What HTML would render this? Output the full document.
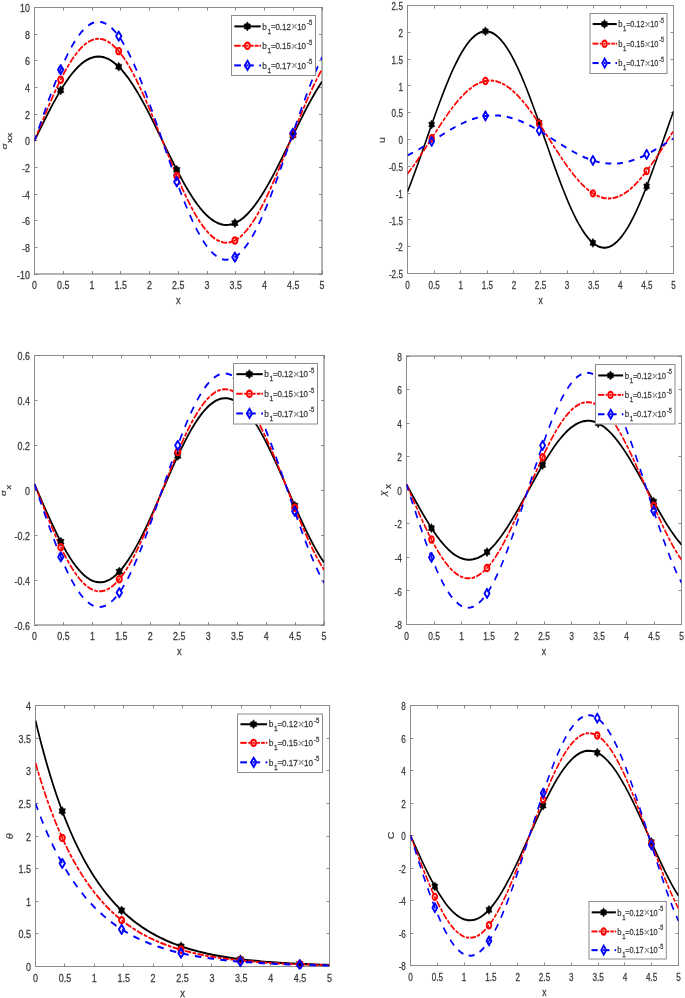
<!DOCTYPE html><html><head><meta charset="utf-8"><style>html,body{margin:0;padding:0;background:#fff;}svg{display:block;will-change:transform;}text{font-family:"Liberation Sans", sans-serif;}</style></head><body>
<svg width="685" height="998" viewBox="0 0 685 998">
<rect width="685" height="998" fill="#fff"/>
<path d="M34.5 274.0V271.0M34.5 7.5V10.5M63.5 274.0V271.0M63.5 7.5V10.5M92.5 274.0V271.0M92.5 7.5V10.5M120.5 274.0V271.0M120.5 7.5V10.5M149.5 274.0V271.0M149.5 7.5V10.5M178.5 274.0V271.0M178.5 7.5V10.5M207.5 274.0V271.0M207.5 7.5V10.5M235.5 274.0V271.0M235.5 7.5V10.5M264.5 274.0V271.0M264.5 7.5V10.5M293.5 274.0V271.0M293.5 7.5V10.5M322.5 274.0V271.0M322.5 7.5V10.5M34.5 274.5H37.5M322.0 274.5H319.0M34.5 247.5H37.5M322.0 247.5H319.0M34.5 220.5H37.5M322.0 220.5H319.0M34.5 194.5H37.5M322.0 194.5H319.0M34.5 167.5H37.5M322.0 167.5H319.0M34.5 140.5H37.5M322.0 140.5H319.0M34.5 114.5H37.5M322.0 114.5H319.0M34.5 87.5H37.5M322.0 87.5H319.0M34.5 60.5H37.5M322.0 60.5H319.0M34.5 34.5H37.5M322.0 34.5H319.0M34.5 7.5H37.5M322.0 7.5H319.0" stroke="#8c8c8c" stroke-width="1" fill="none"/>
<path d="M34.00 7.50H322.50" stroke="#8c8c8c" stroke-width="1" fill="none"/>
<path d="M34.00 274.00H322.50" stroke="#666" stroke-width="1" fill="none"/>
<path d="M34.50 7.00V274.50" stroke="#8c8c8c" stroke-width="1" fill="none"/>
<path d="M322.00 7.00V274.50" stroke="#666" stroke-width="1" fill="none"/>
<clipPath id="c0"><rect x="34.50" y="4.50" width="287.50" height="272.50"/></clipPath>
<g clip-path="url(#c0)"><g transform="scale(1.0000,1.2000)" fill="none" stroke-linejoin="round">
<polyline points="34.50,117.29 37.40,112.29 40.31,107.32 43.21,102.39 46.12,97.54 49.02,92.80 51.92,88.17 54.83,83.70 57.73,79.39 60.64,75.28 63.54,71.38 66.44,67.72 69.35,64.30 72.25,61.16 75.16,58.30 78.06,55.74 80.96,53.50 83.87,51.57 86.77,49.99 89.68,48.74 92.58,47.85 95.48,47.30 98.39,47.11 101.29,47.28 104.20,47.81 107.10,48.68 110.01,49.91 112.91,51.48 115.81,53.38 118.72,55.61 121.62,58.16 124.53,61.00 127.43,64.13 130.33,67.53 133.24,71.18 136.14,75.07 139.05,79.17 141.95,83.46 144.85,87.93 147.76,92.54 150.66,97.29 153.57,102.13 156.47,107.05 159.37,112.02 162.28,117.02 165.18,122.02 168.09,127.00 170.99,131.93 173.89,136.78 176.80,141.54 179.70,146.17 182.61,150.65 185.51,154.97 188.41,159.09 191.32,163.00 194.22,166.68 197.13,170.11 200.03,173.26 202.93,176.14 205.84,178.71 208.74,180.98 211.65,182.91 214.55,184.52 217.45,185.78 220.36,186.70 223.26,187.26 226.17,187.47 229.07,187.32 231.97,186.81 234.88,185.95 237.78,184.75 240.69,183.19 243.59,181.31 246.49,179.10 249.40,176.57 252.30,173.74 255.21,170.63 258.11,167.25 261.02,163.61 263.92,159.73 266.82,155.64 269.73,151.36 272.63,146.90 275.54,142.29 278.44,137.55 281.34,132.71 284.25,127.80 287.15,122.83 290.06,117.83 292.96,112.83 295.86,107.85 298.77,102.92 301.67,98.06 304.58,93.30 307.48,88.66 310.38,84.17 313.29,79.84 316.19,75.71 319.10,71.79 322.00,68.10" stroke="#000" stroke-width="1.70"/>
<polyline points="34.50,117.29 37.40,111.24 40.31,105.22 43.21,99.26 46.12,93.39 49.02,87.64 51.92,82.04 54.83,76.63 57.73,71.42 60.64,66.44 63.54,61.72 66.44,57.28 69.35,53.15 72.25,49.35 75.16,45.89 78.06,42.79 80.96,40.07 83.87,37.74 86.77,35.82 89.68,34.32 92.58,33.23 95.48,32.57 98.39,32.34 101.29,32.55 104.20,33.18 107.10,34.25 110.01,35.73 112.91,37.63 115.81,39.94 118.72,42.63 121.62,45.71 124.53,49.15 127.43,52.94 130.33,57.05 133.24,61.47 136.14,66.18 139.05,71.14 141.95,76.34 144.85,81.75 147.76,87.34 150.66,93.08 153.57,98.94 156.47,104.90 159.37,110.92 162.28,116.97 165.18,123.02 168.09,129.05 170.99,135.01 173.89,140.88 176.80,146.64 179.70,152.24 182.61,157.67 185.51,162.89 188.41,167.89 191.32,172.62 194.22,177.07 197.13,181.22 200.03,185.04 202.93,188.52 205.84,191.64 208.74,194.38 211.65,196.72 214.55,198.67 217.45,200.20 220.36,201.31 223.26,201.99 226.17,202.24 229.07,202.06 231.97,201.44 234.88,200.40 237.78,198.94 240.69,197.06 243.59,194.78 246.49,192.10 249.40,189.05 252.30,185.62 255.21,181.86 258.11,177.76 261.02,173.35 263.92,168.66 266.82,163.71 269.73,158.52 272.63,153.13 275.54,147.55 278.44,141.82 281.34,135.96 284.25,130.01 287.15,123.99 290.06,117.94 292.96,111.89 295.86,105.86 298.77,99.89 301.67,94.01 304.58,88.25 307.48,82.63 310.38,77.20 313.29,71.96 316.19,66.96 319.10,62.21 322.00,57.74" stroke="#f00" stroke-width="1.65" stroke-dasharray="6.168 1.393 3.581 1.393" stroke-dashoffset="0.900"/>
<polyline points="34.50,117.29 37.40,110.23 40.31,103.20 43.21,96.24 46.12,89.39 49.02,82.68 51.92,76.15 54.83,69.82 57.73,63.74 60.64,57.93 63.54,52.42 66.44,47.24 69.35,42.42 72.25,37.98 75.16,33.94 78.06,30.32 80.96,27.15 83.87,24.43 86.77,22.19 89.68,20.43 92.58,19.17 95.48,18.40 98.39,18.13 101.29,18.37 104.20,19.11 107.10,20.35 110.01,22.09 112.91,24.30 115.81,26.99 118.72,30.14 121.62,33.73 124.53,37.75 127.43,42.17 130.33,46.97 133.24,52.13 136.14,57.63 139.05,63.42 141.95,69.49 144.85,75.80 147.76,82.32 150.66,89.03 153.57,95.87 156.47,102.82 159.37,109.85 162.28,116.91 165.18,123.98 168.09,131.01 170.99,137.97 173.89,144.83 176.80,151.55 179.70,158.09 182.61,164.43 185.51,170.53 188.41,176.35 191.32,181.88 194.22,187.07 197.13,191.92 200.03,196.38 202.93,200.44 205.84,204.08 208.74,207.28 211.65,210.02 214.55,212.28 217.45,214.07 220.36,215.36 223.26,216.16 226.17,216.45 229.07,216.24 231.97,215.52 234.88,214.31 237.78,212.60 240.69,210.41 243.59,207.75 246.49,204.62 249.40,201.05 252.30,197.06 255.21,192.66 258.11,187.88 261.02,182.73 263.92,177.26 266.82,171.48 269.73,165.42 272.63,159.12 275.54,152.61 278.44,145.92 281.34,139.08 284.25,132.14 287.15,125.11 290.06,118.05 292.96,110.98 295.86,103.95 298.77,96.98 301.67,90.11 304.58,83.39 307.48,76.84 310.38,70.49 313.29,64.38 316.19,58.54 319.10,52.99 322.00,47.78" stroke="#00f" stroke-width="1.70" stroke-dasharray="6.400 6.135" stroke-dashoffset="1.530"/>
<polygon points="60.64,71.48 59.39,73.11 57.35,73.38 58.14,75.28 57.35,77.18 59.39,77.44 60.64,79.08 61.89,77.44 63.93,77.18 63.14,75.28 63.93,73.38 61.89,73.11" fill="#000" stroke="#000" stroke-width="0.4"/>
<polygon points="118.72,51.81 117.47,53.45 115.43,53.71 116.22,55.61 115.43,57.51 117.47,57.78 118.72,59.41 119.97,57.78 122.01,57.51 121.22,55.61 122.01,53.71 119.97,53.45" fill="#000" stroke="#000" stroke-width="0.4"/>
<polygon points="176.80,137.74 175.55,139.37 173.51,139.64 174.30,141.54 173.51,143.44 175.55,143.70 176.80,145.34 178.05,143.70 180.09,143.44 179.30,141.54 180.09,139.64 178.05,139.37" fill="#000" stroke="#000" stroke-width="0.4"/>
<polygon points="234.88,182.15 233.63,183.79 231.59,184.05 232.38,185.95 231.59,187.85 233.63,188.12 234.88,189.75 236.13,188.12 238.17,187.85 237.38,185.95 238.17,184.05 236.13,183.79" fill="#000" stroke="#000" stroke-width="0.4"/>
<polygon points="292.96,109.03 291.71,110.66 289.67,110.93 290.46,112.83 289.67,114.73 291.71,114.99 292.96,116.63 294.21,114.99 296.25,114.73 295.46,112.83 296.25,110.93 294.21,110.66" fill="#000" stroke="#000" stroke-width="0.4"/>
<circle cx="60.64" cy="66.44" r="2.55" fill="none" stroke="#f00" stroke-width="1.9"/>
<circle cx="118.72" cy="42.63" r="2.55" fill="none" stroke="#f00" stroke-width="1.9"/>
<circle cx="176.80" cy="146.64" r="2.55" fill="none" stroke="#f00" stroke-width="1.9"/>
<circle cx="234.88" cy="200.40" r="2.55" fill="none" stroke="#f00" stroke-width="1.9"/>
<circle cx="292.96" cy="111.89" r="2.55" fill="none" stroke="#f00" stroke-width="1.9"/>
<polygon points="60.64,54.18 63.34,57.93 60.64,61.68 57.94,57.93" fill="none" stroke="#00f" stroke-width="1.8" stroke-miterlimit="10"/>
<polygon points="118.72,26.39 121.42,30.14 118.72,33.89 116.02,30.14" fill="none" stroke="#00f" stroke-width="1.8" stroke-miterlimit="10"/>
<polygon points="176.80,147.80 179.50,151.55 176.80,155.30 174.10,151.55" fill="none" stroke="#00f" stroke-width="1.8" stroke-miterlimit="10"/>
<polygon points="234.88,210.56 237.58,214.31 234.88,218.06 232.18,214.31" fill="none" stroke="#00f" stroke-width="1.8" stroke-miterlimit="10"/>
<polygon points="292.96,107.23 295.66,110.98 292.96,114.73 290.26,110.98" fill="none" stroke="#00f" stroke-width="1.8" stroke-miterlimit="10"/>
</g></g>
<text transform="translate(34.50,289.25) scale(1.020,1.160)" text-anchor="middle" font-size="8.70" fill="#3a3a3a" stroke="#3a3a3a" stroke-width="0.22">0</text>
<text transform="translate(63.25,289.25) scale(1.020,1.160)" text-anchor="middle" font-size="8.70" fill="#3a3a3a" stroke="#3a3a3a" stroke-width="0.22">0.5</text>
<text transform="translate(92.00,289.25) scale(1.020,1.160)" text-anchor="middle" font-size="8.70" fill="#3a3a3a" stroke="#3a3a3a" stroke-width="0.22">1</text>
<text transform="translate(120.75,289.25) scale(1.020,1.160)" text-anchor="middle" font-size="8.70" fill="#3a3a3a" stroke="#3a3a3a" stroke-width="0.22">1.5</text>
<text transform="translate(149.50,289.25) scale(1.020,1.160)" text-anchor="middle" font-size="8.70" fill="#3a3a3a" stroke="#3a3a3a" stroke-width="0.22">2</text>
<text transform="translate(178.25,289.25) scale(1.020,1.160)" text-anchor="middle" font-size="8.70" fill="#3a3a3a" stroke="#3a3a3a" stroke-width="0.22">2.5</text>
<text transform="translate(207.00,289.25) scale(1.020,1.160)" text-anchor="middle" font-size="8.70" fill="#3a3a3a" stroke="#3a3a3a" stroke-width="0.22">3</text>
<text transform="translate(235.75,289.25) scale(1.020,1.160)" text-anchor="middle" font-size="8.70" fill="#3a3a3a" stroke="#3a3a3a" stroke-width="0.22">3.5</text>
<text transform="translate(264.50,289.25) scale(1.020,1.160)" text-anchor="middle" font-size="8.70" fill="#3a3a3a" stroke="#3a3a3a" stroke-width="0.22">4</text>
<text transform="translate(293.25,289.25) scale(1.020,1.160)" text-anchor="middle" font-size="8.70" fill="#3a3a3a" stroke="#3a3a3a" stroke-width="0.22">4.5</text>
<text transform="translate(322.00,289.25) scale(1.020,1.160)" text-anchor="middle" font-size="8.70" fill="#3a3a3a" stroke="#3a3a3a" stroke-width="0.22">5</text>
<text transform="translate(29.90,278.60) scale(1.020,1.160)" text-anchor="end" font-size="8.70" fill="#3a3a3a" stroke="#3a3a3a" stroke-width="0.22">-10</text>
<text transform="translate(29.90,251.95) scale(1.020,1.160)" text-anchor="end" font-size="8.70" fill="#3a3a3a" stroke="#3a3a3a" stroke-width="0.22">-8</text>
<text transform="translate(29.90,225.30) scale(1.020,1.160)" text-anchor="end" font-size="8.70" fill="#3a3a3a" stroke="#3a3a3a" stroke-width="0.22">-6</text>
<text transform="translate(29.90,198.65) scale(1.020,1.160)" text-anchor="end" font-size="8.70" fill="#3a3a3a" stroke="#3a3a3a" stroke-width="0.22">-4</text>
<text transform="translate(29.90,172.00) scale(1.020,1.160)" text-anchor="end" font-size="8.70" fill="#3a3a3a" stroke="#3a3a3a" stroke-width="0.22">-2</text>
<text transform="translate(29.90,145.35) scale(1.020,1.160)" text-anchor="end" font-size="8.70" fill="#3a3a3a" stroke="#3a3a3a" stroke-width="0.22">0</text>
<text transform="translate(29.90,118.70) scale(1.020,1.160)" text-anchor="end" font-size="8.70" fill="#3a3a3a" stroke="#3a3a3a" stroke-width="0.22">2</text>
<text transform="translate(29.90,92.05) scale(1.020,1.160)" text-anchor="end" font-size="8.70" fill="#3a3a3a" stroke="#3a3a3a" stroke-width="0.22">4</text>
<text transform="translate(29.90,65.40) scale(1.020,1.160)" text-anchor="end" font-size="8.70" fill="#3a3a3a" stroke="#3a3a3a" stroke-width="0.22">6</text>
<text transform="translate(29.90,38.75) scale(1.020,1.160)" text-anchor="end" font-size="8.70" fill="#3a3a3a" stroke="#3a3a3a" stroke-width="0.22">8</text>
<text transform="translate(29.90,12.10) scale(1.020,1.160)" text-anchor="end" font-size="8.70" fill="#3a3a3a" stroke="#3a3a3a" stroke-width="0.22">10</text>
<text transform="translate(178.25,304.30) scale(1.000,1.160)" text-anchor="middle" font-size="9.30" fill="#3a3a3a" stroke="#3a3a3a" stroke-width="0.22">x</text>
<rect x="231.50" y="15.50" width="84.00" height="60.00" fill="#fff" stroke="#8c8c8c" stroke-width="1"/>
<g transform="translate(231.50,15.50) scale(1.0000,1.2000)">
<line x1="2.9" y1="9.08" x2="29.2" y2="9.08" stroke="#000" stroke-width="1.7"/>
<polygon points="15.80,5.28 14.55,6.92 12.51,7.18 13.30,9.08 12.51,10.98 14.55,11.25 15.80,12.88 17.05,11.25 19.09,10.98 18.30,9.08 19.09,7.18 17.05,6.92" fill="#000" stroke="#000" stroke-width="0.4"/>
<line x1="2.70" y1="25.21" x2="9.20" y2="25.21" stroke="#f00" stroke-width="1.6"/>
<line x1="10.70" y1="25.21" x2="12.50" y2="25.21" stroke="#f00" stroke-width="1.6"/>
<line x1="14.60" y1="25.21" x2="17.00" y2="25.21" stroke="#f00" stroke-width="1.6"/>
<line x1="19.40" y1="25.21" x2="22.10" y2="25.21" stroke="#f00" stroke-width="1.6"/>
<line x1="23.30" y1="25.21" x2="27.00" y2="25.21" stroke="#f00" stroke-width="1.6"/>
<line x1="28.00" y1="25.21" x2="29.50" y2="25.21" stroke="#f00" stroke-width="1.6"/>
<circle cx="15.90" cy="25.21" r="2.55" fill="none" stroke="#f00" stroke-width="1.9"/>
<line x1="2.70" y1="41.58" x2="9.40" y2="41.58" stroke="#00f" stroke-width="1.7"/>
<line x1="14.80" y1="41.58" x2="17.20" y2="41.58" stroke="#00f" stroke-width="1.7"/>
<line x1="19.40" y1="41.58" x2="22.30" y2="41.58" stroke="#00f" stroke-width="1.7"/>
<line x1="27.80" y1="41.58" x2="29.50" y2="41.58" stroke="#00f" stroke-width="1.7"/>
<polygon points="16.00,37.83 18.70,41.58 16.00,45.33 13.30,41.58" fill="none" stroke="#00f" stroke-width="1.8" stroke-miterlimit="10"/>
</g>
<text transform="translate(262.32,29.60) scale(1.000,1.108)" text-anchor="start" font-size="8.30" fill="#3a3a3a" stroke="#3a3a3a" stroke-width="0.22">b</text>
<text transform="translate(267.61,33.60) scale(1.000,1.185)" text-anchor="start" font-size="6.50" fill="#3a3a3a" stroke="#3a3a3a" stroke-width="0.22">1</text>
<text transform="translate(271.01,29.45) scale(1.000,1.150)" text-anchor="start" font-size="8.00" fill="#3a3a3a" stroke="#3a3a3a" stroke-width="0.22">=</text>
<text transform="translate(275.39,29.60) scale(1.000,1.200)" text-anchor="start" font-size="8.00" fill="#3a3a3a" stroke="#3a3a3a" stroke-width="0.22">0.12</text>
<text transform="translate(291.27,30.45) scale(1.000,1.080)" text-anchor="start" font-size="10.60" fill="#888" stroke="#888" stroke-width="0.22">×</text>
<text transform="translate(297.14,29.60) scale(1.000,1.200)" text-anchor="start" font-size="8.00" fill="#3a3a3a" stroke="#3a3a3a" stroke-width="0.22">10</text>
<text transform="translate(307.04,25.20) scale(1.000,1.220)" text-anchor="start" font-size="5.90" fill="#3a3a3a" stroke="#3a3a3a" stroke-width="0.22">-5</text>
<text transform="translate(262.32,48.95) scale(1.000,1.108)" text-anchor="start" font-size="8.30" fill="#3a3a3a" stroke="#3a3a3a" stroke-width="0.22">b</text>
<text transform="translate(267.61,52.95) scale(1.000,1.185)" text-anchor="start" font-size="6.50" fill="#3a3a3a" stroke="#3a3a3a" stroke-width="0.22">1</text>
<text transform="translate(271.01,48.80) scale(1.000,1.150)" text-anchor="start" font-size="8.00" fill="#3a3a3a" stroke="#3a3a3a" stroke-width="0.22">=</text>
<text transform="translate(275.39,48.95) scale(1.000,1.200)" text-anchor="start" font-size="8.00" fill="#3a3a3a" stroke="#3a3a3a" stroke-width="0.22">0.15</text>
<text transform="translate(291.27,49.80) scale(1.000,1.080)" text-anchor="start" font-size="10.60" fill="#888" stroke="#888" stroke-width="0.22">×</text>
<text transform="translate(297.14,48.95) scale(1.000,1.200)" text-anchor="start" font-size="8.00" fill="#3a3a3a" stroke="#3a3a3a" stroke-width="0.22">10</text>
<text transform="translate(307.04,44.55) scale(1.000,1.220)" text-anchor="start" font-size="5.90" fill="#3a3a3a" stroke="#3a3a3a" stroke-width="0.22">-5</text>
<text transform="translate(262.32,68.60) scale(1.000,1.108)" text-anchor="start" font-size="8.30" fill="#3a3a3a" stroke="#3a3a3a" stroke-width="0.22">b</text>
<text transform="translate(267.61,72.60) scale(1.000,1.185)" text-anchor="start" font-size="6.50" fill="#3a3a3a" stroke="#3a3a3a" stroke-width="0.22">1</text>
<text transform="translate(271.01,68.45) scale(1.000,1.150)" text-anchor="start" font-size="8.00" fill="#3a3a3a" stroke="#3a3a3a" stroke-width="0.22">=</text>
<text transform="translate(275.39,68.60) scale(1.000,1.200)" text-anchor="start" font-size="8.00" fill="#3a3a3a" stroke="#3a3a3a" stroke-width="0.22">0.17</text>
<text transform="translate(291.27,69.45) scale(1.000,1.080)" text-anchor="start" font-size="10.60" fill="#888" stroke="#888" stroke-width="0.22">×</text>
<text transform="translate(297.14,68.60) scale(1.000,1.200)" text-anchor="start" font-size="8.00" fill="#3a3a3a" stroke="#3a3a3a" stroke-width="0.22">10</text>
<text transform="translate(307.04,64.20) scale(1.000,1.220)" text-anchor="start" font-size="5.90" fill="#3a3a3a" stroke="#3a3a3a" stroke-width="0.22">-5</text>
<g transform="translate(7.4,149.4) rotate(-90) scale(1.334,1.000)"><text font-size="7.6" fill="#3a3a3a" stroke="#3a3a3a" stroke-width="0.2">σ</text></g>
<g transform="translate(12.4,142.9) rotate(-90) scale(1.334,1.000)"><text font-size="7.6" fill="#3a3a3a" stroke="#3a3a3a" stroke-width="0.2">xx</text></g>
<path d="M407.5 273.5V270.5M407.5 5.5V8.5M434.5 273.5V270.5M434.5 5.5V8.5M460.5 273.5V270.5M460.5 5.5V8.5M487.5 273.5V270.5M487.5 5.5V8.5M513.5 273.5V270.5M513.5 5.5V8.5M540.5 273.5V270.5M540.5 5.5V8.5M567.5 273.5V270.5M567.5 5.5V8.5M593.5 273.5V270.5M593.5 5.5V8.5M620.5 273.5V270.5M620.5 5.5V8.5M646.5 273.5V270.5M646.5 5.5V8.5M673.5 273.5V270.5M673.5 5.5V8.5M407.5 273.5H410.5M673.5 273.5H670.5M407.5 246.5H410.5M673.5 246.5H670.5M407.5 219.5H410.5M673.5 219.5H670.5M407.5 193.5H410.5M673.5 193.5H670.5M407.5 166.5H410.5M673.5 166.5H670.5M407.5 139.5H410.5M673.5 139.5H670.5M407.5 112.5H410.5M673.5 112.5H670.5M407.5 85.5H410.5M673.5 85.5H670.5M407.5 59.5H410.5M673.5 59.5H670.5M407.5 32.5H410.5M673.5 32.5H670.5M407.5 5.5H410.5M673.5 5.5H670.5" stroke="#8c8c8c" stroke-width="1" fill="none"/>
<path d="M407.00 5.50H674.00" stroke="#8c8c8c" stroke-width="1" fill="none"/>
<path d="M407.00 273.50H674.00" stroke="#8c8c8c" stroke-width="1" fill="none"/>
<path d="M407.50 5.00V274.00" stroke="#8c8c8c" stroke-width="1" fill="none"/>
<path d="M673.50 5.00V274.00" stroke="#8c8c8c" stroke-width="1" fill="none"/>
<clipPath id="c1"><rect x="407.50" y="2.50" width="266.00" height="274.00"/></clipPath>
<g clip-path="url(#c1)"><g transform="scale(0.9167,1.2000)" fill="none" stroke-linejoin="round">
<polyline points="444.55,159.67 447.48,153.93 450.41,148.00 453.34,141.91 456.27,135.69 459.20,129.37 462.13,122.99 465.06,116.57 467.99,110.15 470.93,103.76 473.86,97.43 476.79,91.20 479.72,85.10 482.65,79.15 485.58,73.39 488.51,67.85 491.44,62.56 494.37,57.53 497.31,52.81 500.24,48.40 503.17,44.34 506.10,40.65 509.03,37.34 511.96,34.42 514.89,31.93 517.82,29.86 520.75,28.22 523.69,27.04 526.62,26.30 529.55,26.03 532.48,26.21 535.41,26.84 538.34,27.93 541.27,29.47 544.20,31.44 547.13,33.85 550.07,36.68 553.00,39.90 555.93,43.52 558.86,47.50 561.79,51.83 564.72,56.49 567.65,61.45 570.58,66.69 573.52,72.18 576.45,77.90 579.38,83.80 582.31,89.88 585.24,96.08 588.17,102.39 591.10,108.77 594.03,115.19 596.96,121.61 599.90,128.00 602.83,134.34 605.76,140.58 608.69,146.70 611.62,152.67 614.55,158.45 617.48,164.02 620.41,169.34 623.34,174.40 626.28,179.16 629.21,183.60 632.14,187.70 635.07,191.44 638.00,194.80 640.93,197.76 643.86,200.31 646.79,202.43 649.72,204.11 652.66,205.35 655.59,206.13 658.52,206.47 661.45,206.34 664.38,205.76 667.31,204.72 670.24,203.23 673.17,201.31 676.10,198.95 679.04,196.17 681.97,192.99 684.90,189.42 687.83,185.48 690.76,181.19 693.69,176.56 696.62,171.64 699.55,166.43 702.48,160.97 705.42,155.28 708.35,149.39 711.28,143.33 714.21,137.14 717.14,130.84 720.07,124.47 723.00,118.06 725.93,111.63 728.87,105.23 731.80,98.89 734.73,92.63" stroke="#000" stroke-width="1.70"/>
<polyline points="444.55,144.80 447.48,141.88 450.41,138.83 453.34,135.67 456.27,132.41 459.20,129.07 462.13,125.66 465.06,122.21 467.99,118.72 470.93,115.22 473.86,111.73 476.79,108.26 479.72,104.83 482.65,101.46 485.58,98.16 488.51,94.96 491.44,91.86 494.37,88.89 497.31,86.06 500.24,83.37 503.17,80.86 506.10,78.52 509.03,76.38 511.96,74.44 514.89,72.71 517.82,71.20 520.75,69.92 523.69,68.87 526.62,68.07 529.55,67.50 532.48,67.19 535.41,67.12 538.34,67.31 541.27,67.74 544.20,68.42 547.13,69.33 550.07,70.49 553.00,71.88 555.93,73.50 558.86,75.33 561.79,77.37 564.72,79.60 567.65,82.02 570.58,84.62 573.52,87.37 576.45,90.27 579.38,93.31 582.31,96.46 585.24,99.71 588.17,103.04 591.10,106.44 594.03,109.89 596.96,113.37 599.90,116.87 602.83,120.37 605.76,123.84 608.69,127.27 611.62,130.65 614.55,133.96 617.48,137.17 620.41,140.28 623.34,143.27 626.28,146.12 629.21,148.82 632.14,151.36 635.07,153.72 638.00,155.88 640.93,157.85 643.86,159.60 646.79,161.14 649.72,162.45 652.66,163.52 655.59,164.35 658.52,164.94 661.45,165.29 664.38,165.38 667.31,165.23 670.24,164.82 673.17,164.18 676.10,163.28 679.04,162.15 681.97,160.79 684.90,159.20 687.83,157.40 690.76,155.38 693.69,153.17 696.62,150.77 699.55,148.19 702.48,145.45 705.42,142.57 708.35,139.55 711.28,136.41 714.21,133.17 717.14,129.85 720.07,126.46 723.00,123.01 725.93,119.53 728.87,116.03 731.80,112.54 734.73,109.06" stroke="#f00" stroke-width="1.65" stroke-dasharray="6.280 1.418 3.646 1.418"/>
<polyline points="444.55,129.50 447.48,128.39 450.41,127.22 453.34,126.00 456.27,124.72 459.20,123.40 462.13,122.05 465.06,120.67 467.99,119.26 470.93,117.84 473.86,116.41 476.79,114.98 479.72,113.55 482.65,112.14 485.58,110.75 488.51,109.39 491.44,108.07 494.37,106.78 497.31,105.54 500.24,104.36 503.17,103.24 506.10,102.18 509.03,101.19 511.96,100.28 514.89,99.46 517.82,98.71 520.75,98.06 523.69,97.50 526.62,97.03 529.55,96.66 532.48,96.39 535.41,96.22 538.34,96.15 541.27,96.19 544.20,96.32 547.13,96.56 550.07,96.89 553.00,97.33 555.93,97.86 558.86,98.48 561.79,99.20 564.72,100.00 567.65,100.88 570.58,101.84 573.52,102.87 576.45,103.97 579.38,105.14 582.31,106.36 585.24,107.63 588.17,108.94 591.10,110.29 594.03,111.67 596.96,113.08 599.90,114.50 602.83,115.93 605.76,117.36 608.69,118.78 611.62,120.19 614.55,121.59 617.48,122.95 620.41,124.28 623.34,125.57 626.28,126.82 629.21,128.01 632.14,129.14 635.07,130.20 638.00,131.20 640.93,132.11 643.86,132.95 646.79,133.71 649.72,134.37 652.66,134.94 655.59,135.42 658.52,135.80 661.45,136.08 664.38,136.27 667.31,136.35 670.24,136.32 673.17,136.20 676.10,135.98 679.04,135.65 681.97,135.23 684.90,134.71 687.83,134.10 690.76,133.39 693.69,132.60 696.62,131.73 699.55,130.78 702.48,129.75 705.42,128.66 708.35,127.50 711.28,126.29 714.21,125.02 717.14,123.71 720.07,122.37 723.00,120.99 725.93,119.59 728.87,118.17 731.80,116.74 734.73,115.31" stroke="#00f" stroke-width="1.70" stroke-dasharray="6.400 6.362" stroke-dashoffset="-0.060"/>
<polygon points="470.93,99.96 469.68,101.59 467.63,101.86 468.43,103.76 467.63,105.66 469.68,105.92 470.93,107.56 472.18,105.92 474.22,105.66 473.43,103.76 474.22,101.86 472.18,101.59" fill="#000" stroke="#000" stroke-width="0.4"/>
<polygon points="529.55,22.23 528.30,23.86 526.26,24.13 527.05,26.03 526.26,27.93 528.30,28.19 529.55,29.83 530.80,28.19 532.84,27.93 532.05,26.03 532.84,24.13 530.80,23.86" fill="#000" stroke="#000" stroke-width="0.4"/>
<polygon points="588.17,98.59 586.92,100.23 584.88,100.49 585.67,102.39 584.88,104.29 586.92,104.56 588.17,106.19 589.42,104.56 591.46,104.29 590.67,102.39 591.46,100.49 589.42,100.23" fill="#000" stroke="#000" stroke-width="0.4"/>
<polygon points="646.79,198.63 645.54,200.26 643.50,200.53 644.29,202.43 643.50,204.33 645.54,204.59 646.79,206.23 648.04,204.59 650.08,204.33 649.29,202.43 650.08,200.53 648.04,200.26" fill="#000" stroke="#000" stroke-width="0.4"/>
<polygon points="705.42,151.48 704.17,153.11 702.13,153.38 702.92,155.28 702.13,157.18 704.17,157.44 705.42,159.08 706.67,157.44 708.71,157.18 707.92,155.28 708.71,153.38 706.67,153.11" fill="#000" stroke="#000" stroke-width="0.4"/>
<circle cx="470.93" cy="115.22" r="2.55" fill="none" stroke="#f00" stroke-width="1.9"/>
<circle cx="529.55" cy="67.50" r="2.55" fill="none" stroke="#f00" stroke-width="1.9"/>
<circle cx="588.17" cy="103.04" r="2.55" fill="none" stroke="#f00" stroke-width="1.9"/>
<circle cx="646.79" cy="161.14" r="2.55" fill="none" stroke="#f00" stroke-width="1.9"/>
<circle cx="705.42" cy="142.57" r="2.55" fill="none" stroke="#f00" stroke-width="1.9"/>
<polygon points="470.93,114.09 473.63,117.84 470.93,121.59 468.23,117.84" fill="none" stroke="#00f" stroke-width="1.8" stroke-miterlimit="10"/>
<polygon points="529.55,92.91 532.25,96.66 529.55,100.41 526.85,96.66" fill="none" stroke="#00f" stroke-width="1.8" stroke-miterlimit="10"/>
<polygon points="588.17,105.19 590.87,108.94 588.17,112.69 585.47,108.94" fill="none" stroke="#00f" stroke-width="1.8" stroke-miterlimit="10"/>
<polygon points="646.79,129.96 649.49,133.71 646.79,137.46 644.09,133.71" fill="none" stroke="#00f" stroke-width="1.8" stroke-miterlimit="10"/>
<polygon points="705.42,124.91 708.12,128.66 705.42,132.41 702.72,128.66" fill="none" stroke="#00f" stroke-width="1.8" stroke-miterlimit="10"/>
</g></g>
<text transform="translate(407.50,288.75) scale(0.935,1.160)" text-anchor="middle" font-size="8.70" fill="#3a3a3a" stroke="#3a3a3a" stroke-width="0.22">0</text>
<text transform="translate(434.10,288.75) scale(0.935,1.160)" text-anchor="middle" font-size="8.70" fill="#3a3a3a" stroke="#3a3a3a" stroke-width="0.22">0.5</text>
<text transform="translate(460.70,288.75) scale(0.935,1.160)" text-anchor="middle" font-size="8.70" fill="#3a3a3a" stroke="#3a3a3a" stroke-width="0.22">1</text>
<text transform="translate(487.30,288.75) scale(0.935,1.160)" text-anchor="middle" font-size="8.70" fill="#3a3a3a" stroke="#3a3a3a" stroke-width="0.22">1.5</text>
<text transform="translate(513.90,288.75) scale(0.935,1.160)" text-anchor="middle" font-size="8.70" fill="#3a3a3a" stroke="#3a3a3a" stroke-width="0.22">2</text>
<text transform="translate(540.50,288.75) scale(0.935,1.160)" text-anchor="middle" font-size="8.70" fill="#3a3a3a" stroke="#3a3a3a" stroke-width="0.22">2.5</text>
<text transform="translate(567.10,288.75) scale(0.935,1.160)" text-anchor="middle" font-size="8.70" fill="#3a3a3a" stroke="#3a3a3a" stroke-width="0.22">3</text>
<text transform="translate(593.70,288.75) scale(0.935,1.160)" text-anchor="middle" font-size="8.70" fill="#3a3a3a" stroke="#3a3a3a" stroke-width="0.22">3.5</text>
<text transform="translate(620.30,288.75) scale(0.935,1.160)" text-anchor="middle" font-size="8.70" fill="#3a3a3a" stroke="#3a3a3a" stroke-width="0.22">4</text>
<text transform="translate(646.90,288.75) scale(0.935,1.160)" text-anchor="middle" font-size="8.70" fill="#3a3a3a" stroke="#3a3a3a" stroke-width="0.22">4.5</text>
<text transform="translate(673.50,288.75) scale(0.935,1.160)" text-anchor="middle" font-size="8.70" fill="#3a3a3a" stroke="#3a3a3a" stroke-width="0.22">5</text>
<text transform="translate(402.90,278.10) scale(0.935,1.160)" text-anchor="end" font-size="8.70" fill="#3a3a3a" stroke="#3a3a3a" stroke-width="0.22">-2.5</text>
<text transform="translate(402.90,251.30) scale(0.935,1.160)" text-anchor="end" font-size="8.70" fill="#3a3a3a" stroke="#3a3a3a" stroke-width="0.22">-2</text>
<text transform="translate(402.90,224.50) scale(0.935,1.160)" text-anchor="end" font-size="8.70" fill="#3a3a3a" stroke="#3a3a3a" stroke-width="0.22">-1.5</text>
<text transform="translate(402.90,197.70) scale(0.935,1.160)" text-anchor="end" font-size="8.70" fill="#3a3a3a" stroke="#3a3a3a" stroke-width="0.22">-1</text>
<text transform="translate(402.90,170.90) scale(0.935,1.160)" text-anchor="end" font-size="8.70" fill="#3a3a3a" stroke="#3a3a3a" stroke-width="0.22">-0.5</text>
<text transform="translate(402.90,144.10) scale(0.935,1.160)" text-anchor="end" font-size="8.70" fill="#3a3a3a" stroke="#3a3a3a" stroke-width="0.22">0</text>
<text transform="translate(402.90,117.30) scale(0.935,1.160)" text-anchor="end" font-size="8.70" fill="#3a3a3a" stroke="#3a3a3a" stroke-width="0.22">0.5</text>
<text transform="translate(402.90,90.50) scale(0.935,1.160)" text-anchor="end" font-size="8.70" fill="#3a3a3a" stroke="#3a3a3a" stroke-width="0.22">1</text>
<text transform="translate(402.90,63.70) scale(0.935,1.160)" text-anchor="end" font-size="8.70" fill="#3a3a3a" stroke="#3a3a3a" stroke-width="0.22">1.5</text>
<text transform="translate(402.90,36.90) scale(0.935,1.160)" text-anchor="end" font-size="8.70" fill="#3a3a3a" stroke="#3a3a3a" stroke-width="0.22">2</text>
<text transform="translate(402.90,10.10) scale(0.935,1.160)" text-anchor="end" font-size="8.70" fill="#3a3a3a" stroke="#3a3a3a" stroke-width="0.22">2.5</text>
<text transform="translate(540.50,303.80) scale(0.917,1.160)" text-anchor="middle" font-size="9.30" fill="#3a3a3a" stroke="#3a3a3a" stroke-width="0.22">x</text>
<rect x="590.00" y="13.50" width="77.00" height="60.00" fill="#fff" stroke="#8c8c8c" stroke-width="1"/>
<g transform="translate(590.00,13.50) scale(0.9167,1.2000)">
<line x1="2.9" y1="8.79" x2="29.2" y2="8.79" stroke="#000" stroke-width="1.7"/>
<polygon points="15.80,4.99 14.55,6.63 12.51,6.89 13.30,8.79 12.51,10.69 14.55,10.96 15.80,12.59 17.05,10.96 19.09,10.69 18.30,8.79 19.09,6.89 17.05,6.63" fill="#000" stroke="#000" stroke-width="0.4"/>
<line x1="2.70" y1="25.13" x2="9.20" y2="25.13" stroke="#f00" stroke-width="1.6"/>
<line x1="10.70" y1="25.13" x2="12.50" y2="25.13" stroke="#f00" stroke-width="1.6"/>
<line x1="14.60" y1="25.13" x2="17.00" y2="25.13" stroke="#f00" stroke-width="1.6"/>
<line x1="19.40" y1="25.13" x2="22.10" y2="25.13" stroke="#f00" stroke-width="1.6"/>
<line x1="23.30" y1="25.13" x2="27.00" y2="25.13" stroke="#f00" stroke-width="1.6"/>
<line x1="28.00" y1="25.13" x2="29.50" y2="25.13" stroke="#f00" stroke-width="1.6"/>
<circle cx="15.90" cy="25.13" r="2.55" fill="none" stroke="#f00" stroke-width="1.9"/>
<line x1="2.70" y1="41.29" x2="9.40" y2="41.29" stroke="#00f" stroke-width="1.7"/>
<line x1="14.80" y1="41.29" x2="17.20" y2="41.29" stroke="#00f" stroke-width="1.7"/>
<line x1="19.40" y1="41.29" x2="22.30" y2="41.29" stroke="#00f" stroke-width="1.7"/>
<line x1="27.80" y1="41.29" x2="29.50" y2="41.29" stroke="#00f" stroke-width="1.7"/>
<polygon points="16.00,37.54 18.70,41.29 16.00,45.04 13.30,41.29" fill="none" stroke="#00f" stroke-width="1.8" stroke-miterlimit="10"/>
</g>
<text transform="translate(618.25,27.25) scale(0.917,1.108)" text-anchor="start" font-size="8.30" fill="#3a3a3a" stroke="#3a3a3a" stroke-width="0.22">b</text>
<text transform="translate(623.10,31.25) scale(0.917,1.185)" text-anchor="start" font-size="6.50" fill="#3a3a3a" stroke="#3a3a3a" stroke-width="0.22">1</text>
<text transform="translate(626.22,27.10) scale(0.917,1.150)" text-anchor="start" font-size="8.00" fill="#3a3a3a" stroke="#3a3a3a" stroke-width="0.22">=</text>
<text transform="translate(630.23,27.25) scale(0.917,1.200)" text-anchor="start" font-size="8.00" fill="#3a3a3a" stroke="#3a3a3a" stroke-width="0.22">0.12</text>
<text transform="translate(644.79,28.10) scale(0.917,1.080)" text-anchor="start" font-size="10.60" fill="#888" stroke="#888" stroke-width="0.22">×</text>
<text transform="translate(650.17,27.25) scale(0.917,1.200)" text-anchor="start" font-size="8.00" fill="#3a3a3a" stroke="#3a3a3a" stroke-width="0.22">10</text>
<text transform="translate(659.25,22.85) scale(0.917,1.220)" text-anchor="start" font-size="5.90" fill="#3a3a3a" stroke="#3a3a3a" stroke-width="0.22">-5</text>
<text transform="translate(618.25,46.85) scale(0.917,1.108)" text-anchor="start" font-size="8.30" fill="#3a3a3a" stroke="#3a3a3a" stroke-width="0.22">b</text>
<text transform="translate(623.10,50.85) scale(0.917,1.185)" text-anchor="start" font-size="6.50" fill="#3a3a3a" stroke="#3a3a3a" stroke-width="0.22">1</text>
<text transform="translate(626.22,46.70) scale(0.917,1.150)" text-anchor="start" font-size="8.00" fill="#3a3a3a" stroke="#3a3a3a" stroke-width="0.22">=</text>
<text transform="translate(630.23,46.85) scale(0.917,1.200)" text-anchor="start" font-size="8.00" fill="#3a3a3a" stroke="#3a3a3a" stroke-width="0.22">0.15</text>
<text transform="translate(644.79,47.70) scale(0.917,1.080)" text-anchor="start" font-size="10.60" fill="#888" stroke="#888" stroke-width="0.22">×</text>
<text transform="translate(650.17,46.85) scale(0.917,1.200)" text-anchor="start" font-size="8.00" fill="#3a3a3a" stroke="#3a3a3a" stroke-width="0.22">10</text>
<text transform="translate(659.25,42.45) scale(0.917,1.220)" text-anchor="start" font-size="5.90" fill="#3a3a3a" stroke="#3a3a3a" stroke-width="0.22">-5</text>
<text transform="translate(618.25,66.25) scale(0.917,1.108)" text-anchor="start" font-size="8.30" fill="#3a3a3a" stroke="#3a3a3a" stroke-width="0.22">b</text>
<text transform="translate(623.10,70.25) scale(0.917,1.185)" text-anchor="start" font-size="6.50" fill="#3a3a3a" stroke="#3a3a3a" stroke-width="0.22">1</text>
<text transform="translate(626.22,66.10) scale(0.917,1.150)" text-anchor="start" font-size="8.00" fill="#3a3a3a" stroke="#3a3a3a" stroke-width="0.22">=</text>
<text transform="translate(630.23,66.25) scale(0.917,1.200)" text-anchor="start" font-size="8.00" fill="#3a3a3a" stroke="#3a3a3a" stroke-width="0.22">0.17</text>
<text transform="translate(644.79,67.10) scale(0.917,1.080)" text-anchor="start" font-size="10.60" fill="#888" stroke="#888" stroke-width="0.22">×</text>
<text transform="translate(650.17,66.25) scale(0.917,1.200)" text-anchor="start" font-size="8.00" fill="#3a3a3a" stroke="#3a3a3a" stroke-width="0.22">10</text>
<text transform="translate(659.25,61.85) scale(0.917,1.220)" text-anchor="start" font-size="5.90" fill="#3a3a3a" stroke="#3a3a3a" stroke-width="0.22">-5</text>
<g transform="translate(384.5,143.0) rotate(-90) scale(1.160,0.917)"><text font-size="9.0" fill="#3a3a3a" stroke="#3a3a3a" stroke-width="0.2">u</text></g>
<path d="M34.5 625.0V622.0M34.5 355.5V358.5M63.5 625.0V622.0M63.5 355.5V358.5M92.5 625.0V622.0M92.5 355.5V358.5M121.5 625.0V622.0M121.5 355.5V358.5M150.5 625.0V622.0M150.5 355.5V358.5M179.5 625.0V622.0M179.5 355.5V358.5M208.5 625.0V622.0M208.5 355.5V358.5M237.5 625.0V622.0M237.5 355.5V358.5M266.5 625.0V622.0M266.5 355.5V358.5M295.5 625.0V622.0M295.5 355.5V358.5M324.5 625.0V622.0M324.5 355.5V358.5M34.5 625.5H37.5M324.0 625.5H321.0M34.5 580.5H37.5M324.0 580.5H321.0M34.5 535.5H37.5M324.0 535.5H321.0M34.5 490.5H37.5M324.0 490.5H321.0M34.5 445.5H37.5M324.0 445.5H321.0M34.5 400.5H37.5M324.0 400.5H321.0M34.5 355.5H37.5M324.0 355.5H321.0" stroke="#8c8c8c" stroke-width="1" fill="none"/>
<path d="M34.00 355.50H324.50" stroke="#8c8c8c" stroke-width="1" fill="none"/>
<path d="M34.00 625.00H324.50" stroke="#666" stroke-width="1" fill="none"/>
<path d="M34.50 355.00V625.50" stroke="#8c8c8c" stroke-width="1" fill="none"/>
<path d="M324.00 355.00V625.50" stroke="#666" stroke-width="1" fill="none"/>
<clipPath id="c2"><rect x="34.50" y="352.50" width="289.50" height="275.50"/></clipPath>
<g clip-path="url(#c2)"><g transform="scale(1.0000,1.2000)" fill="none" stroke-linejoin="round">
<polyline points="34.50,403.49 37.42,409.10 40.35,414.72 43.27,420.30 46.20,425.81 49.12,431.24 52.05,436.54 54.97,441.69 57.89,446.67 60.82,451.44 63.74,455.98 66.67,460.26 69.59,464.27 72.52,467.98 75.44,471.37 78.36,474.43 81.29,477.13 84.21,479.46 87.14,481.41 90.06,482.98 92.98,484.14 95.91,484.90 98.83,485.25 101.76,485.19 104.68,484.71 107.61,483.83 110.53,482.55 113.45,480.87 116.38,478.80 119.30,476.35 122.23,473.54 125.15,470.38 128.08,466.90 131.00,463.09 133.92,459.00 136.85,454.63 139.77,450.02 142.70,445.19 145.62,440.16 148.55,434.96 151.47,429.61 154.39,424.16 157.32,418.62 160.24,413.03 163.17,407.41 166.09,401.80 169.02,396.23 171.94,390.72 174.86,385.30 177.79,380.02 180.71,374.88 183.64,369.93 186.56,365.18 189.48,360.66 192.41,356.40 195.33,352.42 198.26,348.75 201.18,345.39 204.11,342.37 207.03,339.70 209.95,337.41 212.88,335.49 215.80,333.97 218.73,332.85 221.65,332.13 224.58,331.82 227.50,331.93 230.42,332.44 233.35,333.36 236.27,334.69 239.20,336.41 242.12,338.52 245.05,341.00 247.97,343.84 250.89,347.04 253.82,350.56 256.74,354.39 259.67,358.51 262.59,362.90 265.52,367.54 268.44,372.40 271.36,377.44 274.29,382.66 277.21,388.02 280.14,393.48 283.06,399.03 285.98,404.62 288.91,410.24 291.83,415.85 294.76,421.42 297.68,426.92 300.61,432.32 303.53,437.59 306.45,442.71 309.38,447.65 312.30,452.37 315.23,456.86 318.15,461.09 321.08,465.04 324.00,468.69" stroke="#000" stroke-width="1.70"/>
<polyline points="34.50,403.49 37.42,409.65 40.35,415.81 43.27,421.93 46.20,427.98 49.12,433.92 52.05,439.73 54.97,445.37 57.89,450.81 60.82,456.03 63.74,460.99 66.67,465.67 69.59,470.05 72.52,474.09 75.44,477.78 78.36,481.11 81.29,484.04 84.21,486.57 87.14,488.68 90.06,490.36 92.98,491.60 95.91,492.40 98.83,492.74 101.76,492.64 104.68,492.08 107.61,491.08 110.53,489.64 113.45,487.76 116.38,485.45 119.30,482.74 122.23,479.62 125.15,476.12 128.08,472.27 131.00,468.07 133.92,463.55 136.85,458.74 139.77,453.65 142.70,448.33 145.62,442.79 148.55,437.07 151.47,431.19 154.39,425.20 157.32,419.11 160.24,412.97 163.17,406.81 166.09,400.65 169.02,394.54 171.94,388.50 174.86,382.57 177.79,376.78 180.71,371.15 183.64,365.73 186.56,360.54 189.48,355.61 192.41,350.96 195.33,346.61 198.26,342.60 201.18,338.95 204.11,335.66 207.03,332.77 209.95,330.28 212.88,328.22 215.80,326.58 218.73,325.38 221.65,324.63 224.58,324.33 227.50,324.48 230.42,325.08 233.35,326.13 236.27,327.62 239.20,329.54 242.12,331.89 245.05,334.64 247.97,337.80 250.89,341.33 253.82,345.23 256.74,349.46 259.67,354.01 262.59,358.85 265.52,363.96 268.44,369.31 271.36,374.86 274.29,380.60 277.21,386.49 280.14,392.50 283.06,398.59 285.98,404.73 288.91,410.90 291.83,417.05 294.76,423.16 297.68,429.19 300.61,435.11 303.53,440.88 306.45,446.49 309.38,451.89 312.30,457.05 315.23,461.96 318.15,466.58 321.08,470.89 324.00,474.87" stroke="#f00" stroke-width="1.65" stroke-dasharray="6.222 1.405 3.613 1.405" stroke-dashoffset="-0.200"/>
<polyline points="34.50,403.49 37.42,410.61 40.35,417.73 43.27,424.79 46.20,431.77 49.12,438.62 52.05,445.31 54.97,451.81 57.89,458.07 60.82,464.06 63.74,469.76 66.67,475.13 69.59,480.15 72.52,484.78 75.44,489.00 78.36,492.79 81.29,496.13 84.21,499.00 87.14,501.38 90.06,503.27 92.98,504.65 95.91,505.51 98.83,505.85 101.76,505.68 104.68,504.98 107.61,503.76 110.53,502.04 113.45,499.81 116.38,497.09 119.30,493.90 122.23,490.25 125.15,486.17 128.08,481.66 131.00,476.77 133.92,471.51 136.85,465.91 139.77,460.00 142.70,453.82 145.62,447.40 148.55,440.76 151.47,433.96 154.39,427.02 157.32,419.98 160.24,412.88 163.17,405.75 166.09,398.64 169.02,391.58 171.94,384.62 174.86,377.78 177.79,371.11 180.71,364.63 183.64,358.40 186.56,352.43 189.48,346.76 192.41,341.43 195.33,336.45 198.26,331.86 201.18,327.68 204.11,323.93 207.03,320.64 209.95,317.82 212.88,315.49 215.80,313.65 218.73,312.33 221.65,311.51 224.58,311.22 227.50,311.45 230.42,312.20 233.35,313.47 236.27,315.25 239.20,317.53 242.12,320.29 245.05,323.53 247.97,327.22 250.89,331.35 253.82,335.90 256.74,340.83 259.67,346.13 262.59,351.76 265.52,357.69 268.44,363.90 271.36,370.35 274.29,377.00 277.21,383.82 280.14,390.77 283.06,397.82 285.98,404.93 288.91,412.05 291.83,419.16 294.76,426.21 297.68,433.16 300.61,439.99 303.53,446.64 306.45,453.09 309.38,459.30 312.30,465.24 315.23,470.88 318.15,476.18 321.08,481.12 324.00,485.67" stroke="#00f" stroke-width="1.70" stroke-dasharray="6.400 6.245" stroke-dashoffset="0.810"/>
<polygon points="60.82,447.64 59.57,449.27 57.53,449.54 58.32,451.44 57.53,453.34 59.57,453.60 60.82,455.24 62.07,453.60 64.11,453.34 63.32,451.44 64.11,449.54 62.07,449.27" fill="#000" stroke="#000" stroke-width="0.4"/>
<polygon points="119.30,472.55 118.05,474.19 116.01,474.45 116.80,476.35 116.01,478.25 118.05,478.52 119.30,480.15 120.55,478.52 122.59,478.25 121.80,476.35 122.59,474.45 120.55,474.19" fill="#000" stroke="#000" stroke-width="0.4"/>
<polygon points="177.79,376.22 176.54,377.85 174.50,378.12 175.29,380.02 174.50,381.92 176.54,382.18 177.79,383.82 179.04,382.18 181.08,381.92 180.29,380.02 181.08,378.12 179.04,377.85" fill="#000" stroke="#000" stroke-width="0.4"/>
<polygon points="236.27,330.89 235.02,332.52 232.98,332.79 233.77,334.69 232.98,336.59 235.02,336.85 236.27,338.49 237.52,336.85 239.56,336.59 238.77,334.69 239.56,332.79 237.52,332.52" fill="#000" stroke="#000" stroke-width="0.4"/>
<polygon points="294.76,417.62 293.51,419.25 291.47,419.52 292.26,421.42 291.47,423.32 293.51,423.58 294.76,425.22 296.01,423.58 298.05,423.32 297.26,421.42 298.05,419.52 296.01,419.25" fill="#000" stroke="#000" stroke-width="0.4"/>
<circle cx="60.82" cy="456.03" r="2.55" fill="none" stroke="#f00" stroke-width="1.9"/>
<circle cx="119.30" cy="482.74" r="2.55" fill="none" stroke="#f00" stroke-width="1.9"/>
<circle cx="177.79" cy="376.78" r="2.55" fill="none" stroke="#f00" stroke-width="1.9"/>
<circle cx="236.27" cy="327.62" r="2.55" fill="none" stroke="#f00" stroke-width="1.9"/>
<circle cx="294.76" cy="423.16" r="2.55" fill="none" stroke="#f00" stroke-width="1.9"/>
<polygon points="60.82,460.31 63.52,464.06 60.82,467.81 58.12,464.06" fill="none" stroke="#00f" stroke-width="1.8" stroke-miterlimit="10"/>
<polygon points="119.30,490.15 122.00,493.90 119.30,497.65 116.60,493.90" fill="none" stroke="#00f" stroke-width="1.8" stroke-miterlimit="10"/>
<polygon points="177.79,367.36 180.49,371.11 177.79,374.86 175.09,371.11" fill="none" stroke="#00f" stroke-width="1.8" stroke-miterlimit="10"/>
<polygon points="236.27,311.50 238.97,315.25 236.27,319.00 233.57,315.25" fill="none" stroke="#00f" stroke-width="1.8" stroke-miterlimit="10"/>
<polygon points="294.76,422.46 297.46,426.21 294.76,429.96 292.06,426.21" fill="none" stroke="#00f" stroke-width="1.8" stroke-miterlimit="10"/>
</g></g>
<text transform="translate(34.50,640.25) scale(1.020,1.160)" text-anchor="middle" font-size="8.70" fill="#3a3a3a" stroke="#3a3a3a" stroke-width="0.22">0</text>
<text transform="translate(63.45,640.25) scale(1.020,1.160)" text-anchor="middle" font-size="8.70" fill="#3a3a3a" stroke="#3a3a3a" stroke-width="0.22">0.5</text>
<text transform="translate(92.40,640.25) scale(1.020,1.160)" text-anchor="middle" font-size="8.70" fill="#3a3a3a" stroke="#3a3a3a" stroke-width="0.22">1</text>
<text transform="translate(121.35,640.25) scale(1.020,1.160)" text-anchor="middle" font-size="8.70" fill="#3a3a3a" stroke="#3a3a3a" stroke-width="0.22">1.5</text>
<text transform="translate(150.30,640.25) scale(1.020,1.160)" text-anchor="middle" font-size="8.70" fill="#3a3a3a" stroke="#3a3a3a" stroke-width="0.22">2</text>
<text transform="translate(179.25,640.25) scale(1.020,1.160)" text-anchor="middle" font-size="8.70" fill="#3a3a3a" stroke="#3a3a3a" stroke-width="0.22">2.5</text>
<text transform="translate(208.20,640.25) scale(1.020,1.160)" text-anchor="middle" font-size="8.70" fill="#3a3a3a" stroke="#3a3a3a" stroke-width="0.22">3</text>
<text transform="translate(237.15,640.25) scale(1.020,1.160)" text-anchor="middle" font-size="8.70" fill="#3a3a3a" stroke="#3a3a3a" stroke-width="0.22">3.5</text>
<text transform="translate(266.10,640.25) scale(1.020,1.160)" text-anchor="middle" font-size="8.70" fill="#3a3a3a" stroke="#3a3a3a" stroke-width="0.22">4</text>
<text transform="translate(295.05,640.25) scale(1.020,1.160)" text-anchor="middle" font-size="8.70" fill="#3a3a3a" stroke="#3a3a3a" stroke-width="0.22">4.5</text>
<text transform="translate(324.00,640.25) scale(1.020,1.160)" text-anchor="middle" font-size="8.70" fill="#3a3a3a" stroke="#3a3a3a" stroke-width="0.22">5</text>
<text transform="translate(29.90,629.60) scale(1.020,1.160)" text-anchor="end" font-size="8.70" fill="#3a3a3a" stroke="#3a3a3a" stroke-width="0.22">-0.6</text>
<text transform="translate(29.90,584.68) scale(1.020,1.160)" text-anchor="end" font-size="8.70" fill="#3a3a3a" stroke="#3a3a3a" stroke-width="0.22">-0.4</text>
<text transform="translate(29.90,539.77) scale(1.020,1.160)" text-anchor="end" font-size="8.70" fill="#3a3a3a" stroke="#3a3a3a" stroke-width="0.22">-0.2</text>
<text transform="translate(29.90,494.85) scale(1.020,1.160)" text-anchor="end" font-size="8.70" fill="#3a3a3a" stroke="#3a3a3a" stroke-width="0.22">0</text>
<text transform="translate(29.90,449.93) scale(1.020,1.160)" text-anchor="end" font-size="8.70" fill="#3a3a3a" stroke="#3a3a3a" stroke-width="0.22">0.2</text>
<text transform="translate(29.90,405.02) scale(1.020,1.160)" text-anchor="end" font-size="8.70" fill="#3a3a3a" stroke="#3a3a3a" stroke-width="0.22">0.4</text>
<text transform="translate(29.90,360.10) scale(1.020,1.160)" text-anchor="end" font-size="8.70" fill="#3a3a3a" stroke="#3a3a3a" stroke-width="0.22">0.6</text>
<text transform="translate(179.25,655.30) scale(1.000,1.160)" text-anchor="middle" font-size="9.30" fill="#3a3a3a" stroke="#3a3a3a" stroke-width="0.22">x</text>
<rect x="233.50" y="363.50" width="84.00" height="60.50" fill="#fff" stroke="#8c8c8c" stroke-width="1"/>
<g transform="translate(233.50,363.50) scale(1.0000,1.2000)">
<line x1="2.9" y1="8.88" x2="29.2" y2="8.88" stroke="#000" stroke-width="1.7"/>
<polygon points="15.80,5.08 14.55,6.71 12.51,6.98 13.30,8.88 12.51,10.78 14.55,11.04 15.80,12.68 17.05,11.04 19.09,10.78 18.30,8.88 19.09,6.97 17.05,6.71" fill="#000" stroke="#000" stroke-width="0.4"/>
<line x1="2.70" y1="25.21" x2="9.20" y2="25.21" stroke="#f00" stroke-width="1.6"/>
<line x1="10.70" y1="25.21" x2="12.50" y2="25.21" stroke="#f00" stroke-width="1.6"/>
<line x1="14.60" y1="25.21" x2="17.00" y2="25.21" stroke="#f00" stroke-width="1.6"/>
<line x1="19.40" y1="25.21" x2="22.10" y2="25.21" stroke="#f00" stroke-width="1.6"/>
<line x1="23.30" y1="25.21" x2="27.00" y2="25.21" stroke="#f00" stroke-width="1.6"/>
<line x1="28.00" y1="25.21" x2="29.50" y2="25.21" stroke="#f00" stroke-width="1.6"/>
<circle cx="15.90" cy="25.21" r="2.55" fill="none" stroke="#f00" stroke-width="1.9"/>
<line x1="2.70" y1="41.63" x2="9.40" y2="41.63" stroke="#00f" stroke-width="1.7"/>
<line x1="14.80" y1="41.63" x2="17.20" y2="41.63" stroke="#00f" stroke-width="1.7"/>
<line x1="19.40" y1="41.63" x2="22.30" y2="41.63" stroke="#00f" stroke-width="1.7"/>
<line x1="27.80" y1="41.63" x2="29.50" y2="41.63" stroke="#00f" stroke-width="1.7"/>
<polygon points="16.00,37.88 18.70,41.63 16.00,45.38 13.30,41.63" fill="none" stroke="#00f" stroke-width="1.8" stroke-miterlimit="10"/>
</g>
<text transform="translate(264.32,377.35) scale(1.000,1.108)" text-anchor="start" font-size="8.30" fill="#3a3a3a" stroke="#3a3a3a" stroke-width="0.22">b</text>
<text transform="translate(269.61,381.35) scale(1.000,1.185)" text-anchor="start" font-size="6.50" fill="#3a3a3a" stroke="#3a3a3a" stroke-width="0.22">1</text>
<text transform="translate(273.01,377.20) scale(1.000,1.150)" text-anchor="start" font-size="8.00" fill="#3a3a3a" stroke="#3a3a3a" stroke-width="0.22">=</text>
<text transform="translate(277.39,377.35) scale(1.000,1.200)" text-anchor="start" font-size="8.00" fill="#3a3a3a" stroke="#3a3a3a" stroke-width="0.22">0.12</text>
<text transform="translate(293.27,378.20) scale(1.000,1.080)" text-anchor="start" font-size="10.60" fill="#888" stroke="#888" stroke-width="0.22">×</text>
<text transform="translate(299.14,377.35) scale(1.000,1.200)" text-anchor="start" font-size="8.00" fill="#3a3a3a" stroke="#3a3a3a" stroke-width="0.22">10</text>
<text transform="translate(309.04,372.95) scale(1.000,1.220)" text-anchor="start" font-size="5.90" fill="#3a3a3a" stroke="#3a3a3a" stroke-width="0.22">-5</text>
<text transform="translate(264.32,396.95) scale(1.000,1.108)" text-anchor="start" font-size="8.30" fill="#3a3a3a" stroke="#3a3a3a" stroke-width="0.22">b</text>
<text transform="translate(269.61,400.95) scale(1.000,1.185)" text-anchor="start" font-size="6.50" fill="#3a3a3a" stroke="#3a3a3a" stroke-width="0.22">1</text>
<text transform="translate(273.01,396.80) scale(1.000,1.150)" text-anchor="start" font-size="8.00" fill="#3a3a3a" stroke="#3a3a3a" stroke-width="0.22">=</text>
<text transform="translate(277.39,396.95) scale(1.000,1.200)" text-anchor="start" font-size="8.00" fill="#3a3a3a" stroke="#3a3a3a" stroke-width="0.22">0.15</text>
<text transform="translate(293.27,397.80) scale(1.000,1.080)" text-anchor="start" font-size="10.60" fill="#888" stroke="#888" stroke-width="0.22">×</text>
<text transform="translate(299.14,396.95) scale(1.000,1.200)" text-anchor="start" font-size="8.00" fill="#3a3a3a" stroke="#3a3a3a" stroke-width="0.22">10</text>
<text transform="translate(309.04,392.55) scale(1.000,1.220)" text-anchor="start" font-size="5.90" fill="#3a3a3a" stroke="#3a3a3a" stroke-width="0.22">-5</text>
<text transform="translate(264.32,416.65) scale(1.000,1.108)" text-anchor="start" font-size="8.30" fill="#3a3a3a" stroke="#3a3a3a" stroke-width="0.22">b</text>
<text transform="translate(269.61,420.65) scale(1.000,1.185)" text-anchor="start" font-size="6.50" fill="#3a3a3a" stroke="#3a3a3a" stroke-width="0.22">1</text>
<text transform="translate(273.01,416.50) scale(1.000,1.150)" text-anchor="start" font-size="8.00" fill="#3a3a3a" stroke="#3a3a3a" stroke-width="0.22">=</text>
<text transform="translate(277.39,416.65) scale(1.000,1.200)" text-anchor="start" font-size="8.00" fill="#3a3a3a" stroke="#3a3a3a" stroke-width="0.22">0.17</text>
<text transform="translate(293.27,417.50) scale(1.000,1.080)" text-anchor="start" font-size="10.60" fill="#888" stroke="#888" stroke-width="0.22">×</text>
<text transform="translate(299.14,416.65) scale(1.000,1.200)" text-anchor="start" font-size="8.00" fill="#3a3a3a" stroke="#3a3a3a" stroke-width="0.22">10</text>
<text transform="translate(309.04,412.25) scale(1.000,1.220)" text-anchor="start" font-size="5.90" fill="#3a3a3a" stroke="#3a3a3a" stroke-width="0.22">-5</text>
<g transform="translate(5.6,496.3) rotate(-90) scale(1.334,1.000)"><text font-size="7.6" fill="#3a3a3a" stroke="#3a3a3a" stroke-width="0.2">σ</text></g>
<g transform="translate(10.6,489.4) rotate(-90) scale(1.218,1.000)"><text font-size="7.6" fill="#3a3a3a" stroke="#3a3a3a" stroke-width="0.2">x</text></g>
<path d="M406.5 624.5V621.5M406.5 356.0V359.0M434.5 624.5V621.5M434.5 356.0V359.0M461.5 624.5V621.5M461.5 356.0V359.0M489.5 624.5V621.5M489.5 356.0V359.0M516.5 624.5V621.5M516.5 356.0V359.0M544.5 624.5V621.5M544.5 356.0V359.0M571.5 624.5V621.5M571.5 356.0V359.0M599.5 624.5V621.5M599.5 356.0V359.0M626.5 624.5V621.5M626.5 356.0V359.0M654.5 624.5V621.5M654.5 356.0V359.0M681.5 624.5V621.5M681.5 356.0V359.0M406.5 624.5H409.5M681.5 624.5H678.5M406.5 590.5H409.5M681.5 590.5H678.5M406.5 557.5H409.5M681.5 557.5H678.5M406.5 523.5H409.5M681.5 523.5H678.5M406.5 490.5H409.5M681.5 490.5H678.5M406.5 456.5H409.5M681.5 456.5H678.5M406.5 423.5H409.5M681.5 423.5H678.5M406.5 389.5H409.5M681.5 389.5H678.5M406.5 356.5H409.5M681.5 356.5H678.5" stroke="#8c8c8c" stroke-width="1" fill="none"/>
<path d="M406.00 356.00H682.00" stroke="#666" stroke-width="1" fill="none"/>
<path d="M406.00 624.50H682.00" stroke="#8c8c8c" stroke-width="1" fill="none"/>
<path d="M406.50 355.50V625.00" stroke="#8c8c8c" stroke-width="1" fill="none"/>
<path d="M681.50 355.50V625.00" stroke="#8c8c8c" stroke-width="1" fill="none"/>
<clipPath id="c3"><rect x="406.50" y="353.00" width="275.00" height="274.50"/></clipPath>
<g clip-path="url(#c3)"><g transform="scale(0.9464,1.2000)" fill="none" stroke-linejoin="round">
<polyline points="429.51,403.65 432.44,407.89 435.38,412.14 438.31,416.37 441.25,420.55 444.18,424.68 447.12,428.71 450.05,432.64 452.99,436.43 455.92,440.08 458.86,443.55 461.79,446.84 464.73,449.92 467.66,452.78 470.60,455.40 473.53,457.77 476.47,459.87 479.40,461.70 482.34,463.24 485.27,464.48 488.21,465.42 491.14,466.06 494.08,466.39 497.01,466.41 499.95,466.11 502.88,465.50 505.82,464.59 508.75,463.38 511.69,461.87 514.62,460.07 517.56,457.99 520.49,455.65 523.43,453.06 526.36,450.22 529.30,447.16 532.23,443.90 535.17,440.44 538.10,436.81 541.04,433.03 543.97,429.11 546.91,425.09 549.84,420.98 552.78,416.80 555.71,412.57 558.65,408.32 561.58,404.08 564.52,399.86 567.45,395.68 570.39,391.58 573.32,387.56 576.26,383.66 579.19,379.89 582.13,376.28 585.06,372.84 588.00,369.60 590.94,366.56 593.87,363.75 596.81,361.18 599.74,358.86 602.68,356.82 605.61,355.05 608.55,353.57 611.48,352.38 614.42,351.50 617.35,350.93 620.29,350.67 623.22,350.71 626.16,351.07 629.09,351.74 632.03,352.72 634.96,353.99 637.90,355.56 640.83,357.42 643.77,359.55 646.70,361.94 649.64,364.59 652.57,367.47 655.51,370.57 658.44,373.88 661.38,377.37 664.31,381.03 667.25,384.84 670.18,388.78 673.12,392.83 676.05,396.96 678.99,401.15 681.92,405.38 684.86,409.63 687.79,413.87 690.73,418.08 693.66,422.25 696.60,426.34 699.53,430.33 702.47,434.20 705.40,437.94 708.34,441.52 711.27,444.92 714.21,448.13 717.14,451.12 720.08,453.88" stroke="#000" stroke-width="1.70"/>
<polyline points="429.51,403.65 432.44,409.03 435.38,414.41 438.31,419.75 441.25,425.04 444.18,430.23 447.12,435.32 450.05,440.25 452.99,445.02 455.92,449.59 458.86,453.94 461.79,458.04 464.73,461.88 467.66,465.44 470.60,468.68 473.53,471.61 476.47,474.19 479.40,476.42 482.34,478.29 485.27,479.78 488.21,480.89 491.14,481.61 494.08,481.94 497.01,481.87 499.95,481.41 502.88,480.56 505.82,479.32 508.75,477.70 511.69,475.70 514.62,473.35 517.56,470.65 520.49,467.61 523.43,464.26 526.36,460.61 529.30,456.67 532.23,452.48 535.17,448.06 538.10,443.42 541.04,438.59 543.97,433.60 546.91,428.48 549.84,423.25 552.78,417.94 555.71,412.58 558.65,407.19 561.58,401.82 564.52,396.48 567.45,391.21 570.39,386.03 573.32,380.97 576.26,376.06 579.19,371.32 582.13,366.78 585.06,362.47 588.00,358.41 590.94,354.61 593.87,351.11 596.81,347.91 599.74,345.04 602.68,342.51 605.61,340.34 608.55,338.53 611.48,337.10 614.42,336.05 617.35,335.39 620.29,335.13 623.22,335.26 626.16,335.78 629.09,336.70 632.03,338.00 634.96,339.68 637.90,341.73 640.83,344.14 643.77,346.90 646.70,349.99 649.64,353.39 652.57,357.09 655.51,361.06 658.44,365.29 661.38,369.76 664.31,374.43 667.25,379.28 670.18,384.30 673.12,389.44 676.05,394.68 678.99,400.00 681.92,405.37 684.86,410.75 687.79,416.12 690.73,421.45 693.66,426.71 696.60,431.88 699.53,436.91 702.47,441.80 705.40,446.50 708.34,451.01 711.27,455.28 714.21,459.30 717.14,463.05 720.08,466.51" stroke="#f00" stroke-width="1.65" stroke-dasharray="6.241 1.409 3.624 1.409"/>
<polyline points="429.51,403.65 432.44,410.80 435.38,417.95 438.31,425.04 441.25,432.05 444.18,438.93 447.12,445.65 450.05,452.17 452.99,458.45 455.92,464.47 458.86,470.19 461.79,475.58 464.73,480.62 467.66,485.26 470.60,489.50 473.53,493.31 476.47,496.66 479.40,499.54 482.34,501.93 485.27,503.82 488.21,505.21 491.14,506.08 494.08,506.43 497.01,506.25 499.95,505.55 502.88,504.33 505.82,502.60 508.75,500.37 511.69,497.65 514.62,494.45 517.56,490.79 520.49,486.69 523.43,482.18 526.36,477.27 529.30,471.99 532.23,466.37 535.17,460.45 538.10,454.24 541.04,447.80 543.97,441.14 546.91,434.31 549.84,427.34 552.78,420.27 555.71,413.14 558.65,405.98 561.58,398.84 564.52,391.75 567.45,384.74 570.39,377.87 573.32,371.16 576.26,364.65 579.19,358.37 582.13,352.37 585.06,346.66 588.00,341.28 590.94,336.26 593.87,331.63 596.81,327.41 599.74,323.63 602.68,320.30 605.61,317.44 608.55,315.06 611.48,313.19 614.42,311.83 617.35,310.98 620.29,310.65 623.22,310.85 626.16,311.57 629.09,312.81 632.03,314.56 634.96,316.82 637.90,319.56 640.83,322.78 643.77,326.46 646.70,330.57 649.64,335.10 652.57,340.03 655.51,345.32 658.44,350.95 661.38,356.89 664.31,363.10 667.25,369.56 670.18,376.23 673.12,383.06 676.05,390.04 678.99,397.11 681.92,404.24 684.86,411.40 687.79,418.54 690.73,425.63 693.66,432.63 696.60,439.50 699.53,446.20 702.47,452.70 705.40,458.97 708.34,464.96 711.27,470.66 714.21,476.02 717.14,481.02 720.08,485.63" stroke="#00f" stroke-width="1.70" stroke-dasharray="6.400 6.284" stroke-dashoffset="1.380"/>
<polygon points="455.92,436.28 454.67,437.91 452.63,438.18 453.42,440.08 452.63,441.98 454.67,442.24 455.92,443.88 457.17,442.24 459.22,441.98 458.42,440.08 459.22,438.18 457.17,437.91" fill="#000" stroke="#000" stroke-width="0.4"/>
<polygon points="514.62,456.27 513.37,457.90 511.33,458.17 512.12,460.07 511.33,461.97 513.37,462.23 514.62,463.87 515.87,462.23 517.92,461.97 517.12,460.07 517.92,458.17 515.87,457.90" fill="#000" stroke="#000" stroke-width="0.4"/>
<polygon points="573.32,383.76 572.07,385.40 570.03,385.66 570.82,387.56 570.03,389.46 572.07,389.73 573.32,391.36 574.57,389.73 576.62,389.46 575.82,387.56 576.62,385.66 574.57,385.40" fill="#000" stroke="#000" stroke-width="0.4"/>
<polygon points="632.03,348.92 630.78,350.55 628.73,350.82 629.53,352.72 628.73,354.62 630.78,354.88 632.03,356.52 633.28,354.88 635.32,354.62 634.53,352.72 635.32,350.82 633.28,350.55" fill="#000" stroke="#000" stroke-width="0.4"/>
<polygon points="690.73,414.28 689.48,415.92 687.43,416.18 688.23,418.08 687.43,419.98 689.48,420.25 690.73,421.88 691.98,420.25 694.02,419.98 693.23,418.08 694.02,416.18 691.98,415.92" fill="#000" stroke="#000" stroke-width="0.4"/>
<circle cx="455.92" cy="449.59" r="2.55" fill="none" stroke="#f00" stroke-width="1.9"/>
<circle cx="514.62" cy="473.35" r="2.55" fill="none" stroke="#f00" stroke-width="1.9"/>
<circle cx="573.32" cy="380.97" r="2.55" fill="none" stroke="#f00" stroke-width="1.9"/>
<circle cx="632.03" cy="338.00" r="2.55" fill="none" stroke="#f00" stroke-width="1.9"/>
<circle cx="690.73" cy="421.45" r="2.55" fill="none" stroke="#f00" stroke-width="1.9"/>
<polygon points="455.92,460.72 458.62,464.47 455.92,468.22 453.22,464.47" fill="none" stroke="#00f" stroke-width="1.8" stroke-miterlimit="10"/>
<polygon points="514.62,490.70 517.32,494.45 514.62,498.20 511.92,494.45" fill="none" stroke="#00f" stroke-width="1.8" stroke-miterlimit="10"/>
<polygon points="573.32,367.41 576.02,371.16 573.32,374.91 570.62,371.16" fill="none" stroke="#00f" stroke-width="1.8" stroke-miterlimit="10"/>
<polygon points="632.03,310.81 634.73,314.56 632.03,318.31 629.33,314.56" fill="none" stroke="#00f" stroke-width="1.8" stroke-miterlimit="10"/>
<polygon points="690.73,421.88 693.43,425.63 690.73,429.38 688.03,425.63" fill="none" stroke="#00f" stroke-width="1.8" stroke-miterlimit="10"/>
</g></g>
<text transform="translate(406.50,639.75) scale(0.965,1.160)" text-anchor="middle" font-size="8.70" fill="#3a3a3a" stroke="#3a3a3a" stroke-width="0.22">0</text>
<text transform="translate(434.00,639.75) scale(0.965,1.160)" text-anchor="middle" font-size="8.70" fill="#3a3a3a" stroke="#3a3a3a" stroke-width="0.22">0.5</text>
<text transform="translate(461.50,639.75) scale(0.965,1.160)" text-anchor="middle" font-size="8.70" fill="#3a3a3a" stroke="#3a3a3a" stroke-width="0.22">1</text>
<text transform="translate(489.00,639.75) scale(0.965,1.160)" text-anchor="middle" font-size="8.70" fill="#3a3a3a" stroke="#3a3a3a" stroke-width="0.22">1.5</text>
<text transform="translate(516.50,639.75) scale(0.965,1.160)" text-anchor="middle" font-size="8.70" fill="#3a3a3a" stroke="#3a3a3a" stroke-width="0.22">2</text>
<text transform="translate(544.00,639.75) scale(0.965,1.160)" text-anchor="middle" font-size="8.70" fill="#3a3a3a" stroke="#3a3a3a" stroke-width="0.22">2.5</text>
<text transform="translate(571.50,639.75) scale(0.965,1.160)" text-anchor="middle" font-size="8.70" fill="#3a3a3a" stroke="#3a3a3a" stroke-width="0.22">3</text>
<text transform="translate(599.00,639.75) scale(0.965,1.160)" text-anchor="middle" font-size="8.70" fill="#3a3a3a" stroke="#3a3a3a" stroke-width="0.22">3.5</text>
<text transform="translate(626.50,639.75) scale(0.965,1.160)" text-anchor="middle" font-size="8.70" fill="#3a3a3a" stroke="#3a3a3a" stroke-width="0.22">4</text>
<text transform="translate(654.00,639.75) scale(0.965,1.160)" text-anchor="middle" font-size="8.70" fill="#3a3a3a" stroke="#3a3a3a" stroke-width="0.22">4.5</text>
<text transform="translate(681.50,639.75) scale(0.965,1.160)" text-anchor="middle" font-size="8.70" fill="#3a3a3a" stroke="#3a3a3a" stroke-width="0.22">5</text>
<text transform="translate(401.90,629.10) scale(0.965,1.160)" text-anchor="end" font-size="8.70" fill="#3a3a3a" stroke="#3a3a3a" stroke-width="0.22">-8</text>
<text transform="translate(401.90,595.54) scale(0.965,1.160)" text-anchor="end" font-size="8.70" fill="#3a3a3a" stroke="#3a3a3a" stroke-width="0.22">-6</text>
<text transform="translate(401.90,561.98) scale(0.965,1.160)" text-anchor="end" font-size="8.70" fill="#3a3a3a" stroke="#3a3a3a" stroke-width="0.22">-4</text>
<text transform="translate(401.90,528.41) scale(0.965,1.160)" text-anchor="end" font-size="8.70" fill="#3a3a3a" stroke="#3a3a3a" stroke-width="0.22">-2</text>
<text transform="translate(401.90,494.85) scale(0.965,1.160)" text-anchor="end" font-size="8.70" fill="#3a3a3a" stroke="#3a3a3a" stroke-width="0.22">0</text>
<text transform="translate(401.90,461.29) scale(0.965,1.160)" text-anchor="end" font-size="8.70" fill="#3a3a3a" stroke="#3a3a3a" stroke-width="0.22">2</text>
<text transform="translate(401.90,427.73) scale(0.965,1.160)" text-anchor="end" font-size="8.70" fill="#3a3a3a" stroke="#3a3a3a" stroke-width="0.22">4</text>
<text transform="translate(401.90,394.16) scale(0.965,1.160)" text-anchor="end" font-size="8.70" fill="#3a3a3a" stroke="#3a3a3a" stroke-width="0.22">6</text>
<text transform="translate(401.90,360.60) scale(0.965,1.160)" text-anchor="end" font-size="8.70" fill="#3a3a3a" stroke="#3a3a3a" stroke-width="0.22">8</text>
<text transform="translate(544.00,654.80) scale(0.946,1.160)" text-anchor="middle" font-size="9.30" fill="#3a3a3a" stroke="#3a3a3a" stroke-width="0.22">x</text>
<rect x="595.50" y="364.50" width="79.50" height="59.50" fill="#fff" stroke="#8c8c8c" stroke-width="1"/>
<g transform="translate(595.50,364.50) scale(0.9464,1.2000)">
<line x1="2.9" y1="9.12" x2="29.2" y2="9.12" stroke="#000" stroke-width="1.7"/>
<polygon points="15.80,5.33 14.55,6.96 12.51,7.23 13.30,9.12 12.51,11.03 14.55,11.29 15.80,12.93 17.05,11.29 19.09,11.03 18.30,9.12 19.09,7.22 17.05,6.96" fill="#000" stroke="#000" stroke-width="0.4"/>
<line x1="2.70" y1="25.29" x2="9.20" y2="25.29" stroke="#f00" stroke-width="1.6"/>
<line x1="10.70" y1="25.29" x2="12.50" y2="25.29" stroke="#f00" stroke-width="1.6"/>
<line x1="14.60" y1="25.29" x2="17.00" y2="25.29" stroke="#f00" stroke-width="1.6"/>
<line x1="19.40" y1="25.29" x2="22.10" y2="25.29" stroke="#f00" stroke-width="1.6"/>
<line x1="23.30" y1="25.29" x2="27.00" y2="25.29" stroke="#f00" stroke-width="1.6"/>
<line x1="28.00" y1="25.29" x2="29.50" y2="25.29" stroke="#f00" stroke-width="1.6"/>
<circle cx="15.90" cy="25.29" r="2.55" fill="none" stroke="#f00" stroke-width="1.9"/>
<line x1="2.70" y1="41.46" x2="9.40" y2="41.46" stroke="#00f" stroke-width="1.7"/>
<line x1="14.80" y1="41.46" x2="17.20" y2="41.46" stroke="#00f" stroke-width="1.7"/>
<line x1="19.40" y1="41.46" x2="22.30" y2="41.46" stroke="#00f" stroke-width="1.7"/>
<line x1="27.80" y1="41.46" x2="29.50" y2="41.46" stroke="#00f" stroke-width="1.7"/>
<polygon points="16.00,37.71 18.70,41.46 16.00,45.21 13.30,41.46" fill="none" stroke="#00f" stroke-width="1.8" stroke-miterlimit="10"/>
</g>
<text transform="translate(624.67,378.65) scale(0.946,1.108)" text-anchor="start" font-size="8.30" fill="#3a3a3a" stroke="#3a3a3a" stroke-width="0.22">b</text>
<text transform="translate(629.67,382.65) scale(0.946,1.185)" text-anchor="start" font-size="6.50" fill="#3a3a3a" stroke="#3a3a3a" stroke-width="0.22">1</text>
<text transform="translate(632.89,378.50) scale(0.946,1.150)" text-anchor="start" font-size="8.00" fill="#3a3a3a" stroke="#3a3a3a" stroke-width="0.22">=</text>
<text transform="translate(637.04,378.65) scale(0.946,1.200)" text-anchor="start" font-size="8.00" fill="#3a3a3a" stroke="#3a3a3a" stroke-width="0.22">0.12</text>
<text transform="translate(652.07,379.50) scale(0.946,1.080)" text-anchor="start" font-size="10.60" fill="#888" stroke="#888" stroke-width="0.22">×</text>
<text transform="translate(657.62,378.65) scale(0.946,1.200)" text-anchor="start" font-size="8.00" fill="#3a3a3a" stroke="#3a3a3a" stroke-width="0.22">10</text>
<text transform="translate(666.99,374.25) scale(0.946,1.220)" text-anchor="start" font-size="5.90" fill="#3a3a3a" stroke="#3a3a3a" stroke-width="0.22">-5</text>
<text transform="translate(624.67,398.05) scale(0.946,1.108)" text-anchor="start" font-size="8.30" fill="#3a3a3a" stroke="#3a3a3a" stroke-width="0.22">b</text>
<text transform="translate(629.67,402.05) scale(0.946,1.185)" text-anchor="start" font-size="6.50" fill="#3a3a3a" stroke="#3a3a3a" stroke-width="0.22">1</text>
<text transform="translate(632.89,397.90) scale(0.946,1.150)" text-anchor="start" font-size="8.00" fill="#3a3a3a" stroke="#3a3a3a" stroke-width="0.22">=</text>
<text transform="translate(637.04,398.05) scale(0.946,1.200)" text-anchor="start" font-size="8.00" fill="#3a3a3a" stroke="#3a3a3a" stroke-width="0.22">0.15</text>
<text transform="translate(652.07,398.90) scale(0.946,1.080)" text-anchor="start" font-size="10.60" fill="#888" stroke="#888" stroke-width="0.22">×</text>
<text transform="translate(657.62,398.05) scale(0.946,1.200)" text-anchor="start" font-size="8.00" fill="#3a3a3a" stroke="#3a3a3a" stroke-width="0.22">10</text>
<text transform="translate(666.99,393.65) scale(0.946,1.220)" text-anchor="start" font-size="5.90" fill="#3a3a3a" stroke="#3a3a3a" stroke-width="0.22">-5</text>
<text transform="translate(624.67,417.45) scale(0.946,1.108)" text-anchor="start" font-size="8.30" fill="#3a3a3a" stroke="#3a3a3a" stroke-width="0.22">b</text>
<text transform="translate(629.67,421.45) scale(0.946,1.185)" text-anchor="start" font-size="6.50" fill="#3a3a3a" stroke="#3a3a3a" stroke-width="0.22">1</text>
<text transform="translate(632.89,417.30) scale(0.946,1.150)" text-anchor="start" font-size="8.00" fill="#3a3a3a" stroke="#3a3a3a" stroke-width="0.22">=</text>
<text transform="translate(637.04,417.45) scale(0.946,1.200)" text-anchor="start" font-size="8.00" fill="#3a3a3a" stroke="#3a3a3a" stroke-width="0.22">0.17</text>
<text transform="translate(652.07,418.30) scale(0.946,1.080)" text-anchor="start" font-size="10.60" fill="#888" stroke="#888" stroke-width="0.22">×</text>
<text transform="translate(657.62,417.45) scale(0.946,1.200)" text-anchor="start" font-size="8.00" fill="#3a3a3a" stroke="#3a3a3a" stroke-width="0.22">10</text>
<text transform="translate(666.99,413.05) scale(0.946,1.220)" text-anchor="start" font-size="5.90" fill="#3a3a3a" stroke="#3a3a3a" stroke-width="0.22">-5</text>
<g transform="translate(386.0,496.0) rotate(-90) scale(1.160,0.946)"><text font-size="8.6" fill="#3a3a3a" font-style="italic" stroke="#3a3a3a" stroke-width="0.2">χ</text></g>
<g transform="translate(390.5,489.0) rotate(-90) scale(1.160,0.946)"><text font-size="8.6" fill="#3a3a3a" stroke="#3a3a3a" stroke-width="0.2">x</text></g>
<path d="M35.5 966.5V963.5M35.5 705.5V708.5M64.5 966.5V963.5M64.5 705.5V708.5M94.5 966.5V963.5M94.5 705.5V708.5M123.5 966.5V963.5M123.5 705.5V708.5M153.5 966.5V963.5M153.5 705.5V708.5M182.5 966.5V963.5M182.5 705.5V708.5M211.5 966.5V963.5M211.5 705.5V708.5M241.5 966.5V963.5M241.5 705.5V708.5M270.5 966.5V963.5M270.5 705.5V708.5M300.5 966.5V963.5M300.5 705.5V708.5M329.5 966.5V963.5M329.5 705.5V708.5M35.5 966.5H38.5M329.5 966.5H326.5M35.5 933.5H38.5M329.5 933.5H326.5M35.5 901.5H38.5M329.5 901.5H326.5M35.5 868.5H38.5M329.5 868.5H326.5M35.5 836.5H38.5M329.5 836.5H326.5M35.5 803.5H38.5M329.5 803.5H326.5M35.5 770.5H38.5M329.5 770.5H326.5M35.5 738.5H38.5M329.5 738.5H326.5M35.5 705.5H38.5M329.5 705.5H326.5" stroke="#8c8c8c" stroke-width="1" fill="none"/>
<path d="M35.00 705.50H330.00" stroke="#8c8c8c" stroke-width="1" fill="none"/>
<path d="M35.00 966.50H330.00" stroke="#8c8c8c" stroke-width="1" fill="none"/>
<path d="M35.50 705.00V967.00" stroke="#8c8c8c" stroke-width="1" fill="none"/>
<path d="M329.50 705.00V967.00" stroke="#8c8c8c" stroke-width="1" fill="none"/>
<clipPath id="c4"><rect x="35.50" y="702.50" width="294.00" height="267.00"/></clipPath>
<g clip-path="url(#c4)"><g transform="scale(1.0119,1.2000)" fill="none" stroke-linejoin="round">
<polyline points="35.08,600.42 38.02,610.62 40.95,620.30 43.89,629.51 46.82,638.26 49.76,646.57 52.69,654.47 55.63,661.98 58.56,669.11 61.50,675.89 64.43,682.33 67.36,688.45 70.30,694.27 73.23,699.80 76.17,705.05 79.10,710.04 82.04,714.78 84.97,719.29 87.91,723.57 90.84,727.64 93.78,731.51 96.71,735.19 99.65,738.68 102.58,742.00 105.52,745.15 108.45,748.15 111.39,751.00 114.32,753.70 117.26,756.28 120.19,758.72 123.13,761.04 126.06,763.25 128.99,765.35 131.93,767.34 134.86,769.23 137.80,771.03 140.73,772.74 143.67,774.37 146.60,775.91 149.54,777.38 152.47,778.77 155.41,780.10 158.34,781.36 161.28,782.55 164.21,783.69 167.15,784.77 170.08,785.80 173.02,786.77 175.95,787.70 178.89,788.58 181.82,789.42 184.76,790.21 187.69,790.97 190.62,791.69 193.56,792.37 196.49,793.02 199.43,793.64 202.36,794.22 205.30,794.78 208.23,795.31 211.17,795.81 214.10,796.29 217.04,796.74 219.97,797.17 222.91,797.58 225.84,797.97 228.78,798.34 231.71,798.70 234.65,799.03 237.58,799.35 240.52,799.65 243.45,799.94 246.39,800.21 249.32,800.47 252.25,800.71 255.19,800.95 258.12,801.17 261.06,801.38 263.99,801.58 266.93,801.77 269.86,801.95 272.80,802.13 275.73,802.29 278.67,802.44 281.60,802.59 284.54,802.73 287.47,802.87 290.41,802.99 293.34,803.11 296.28,803.23 299.21,803.34 302.15,803.44 305.08,803.54 308.01,803.63 310.95,803.72 313.88,803.81 316.82,803.89 319.75,803.96 322.69,804.03 325.62,804.10" stroke="#000" stroke-width="1.70"/>
<polyline points="35.08,635.77 38.02,644.20 40.95,652.22 43.89,659.84 46.82,667.08 49.76,673.96 52.69,680.50 55.63,686.71 58.56,692.61 61.50,698.22 64.43,703.55 67.36,708.62 70.30,713.43 73.23,718.01 76.17,722.35 79.10,726.48 82.04,730.41 84.97,734.14 87.91,737.68 90.84,741.05 93.78,744.25 96.71,747.30 99.65,750.19 102.58,752.93 105.52,755.54 108.45,758.02 111.39,760.38 114.32,762.62 117.26,764.75 120.19,766.77 123.13,768.69 126.06,770.52 128.99,772.25 131.93,773.90 134.86,775.47 137.80,776.96 140.73,778.38 143.67,779.72 146.60,781.00 149.54,782.21 152.47,783.37 155.41,784.46 158.34,785.50 161.28,786.50 164.21,787.44 167.15,788.33 170.08,789.18 173.02,789.99 175.95,790.75 178.89,791.48 181.82,792.18 184.76,792.84 187.69,793.46 190.62,794.06 193.56,794.62 196.49,795.16 199.43,795.67 202.36,796.15 205.30,796.61 208.23,797.05 211.17,797.47 214.10,797.86 217.04,798.24 219.97,798.60 222.91,798.93 225.84,799.26 228.78,799.56 231.71,799.85 234.65,800.13 237.58,800.39 240.52,800.64 243.45,800.88 246.39,801.11 249.32,801.32 252.25,801.52 255.19,801.72 258.12,801.90 261.06,802.08 263.99,802.24 266.93,802.40 269.86,802.55 272.80,802.69 275.73,802.83 278.67,802.96 281.60,803.08 284.54,803.20 287.47,803.31 290.41,803.41 293.34,803.51 296.28,803.61 299.21,803.70 302.15,803.78 305.08,803.86 308.01,803.94 310.95,804.01 313.88,804.08 316.82,804.15 319.75,804.21 322.69,804.27 325.62,804.33" stroke="#f00" stroke-width="1.65" stroke-dasharray="6.211 1.402 3.606 1.402"/>
<polyline points="35.08,669.48 38.02,676.24 40.95,682.66 43.89,688.77 46.82,694.57 49.76,700.08 52.69,705.32 55.63,710.30 58.56,715.03 61.50,719.52 64.43,723.80 67.36,727.85 70.30,731.71 73.23,735.38 76.17,738.86 79.10,742.17 82.04,745.32 84.97,748.30 87.91,751.14 90.84,753.84 93.78,756.41 96.71,758.85 99.65,761.16 102.58,763.36 105.52,765.45 108.45,767.44 111.39,769.33 114.32,771.12 117.26,772.83 120.19,774.45 123.13,775.99 126.06,777.45 128.99,778.84 131.93,780.17 134.86,781.42 137.80,782.61 140.73,783.75 143.67,784.83 146.60,785.85 149.54,786.82 152.47,787.75 155.41,788.63 158.34,789.46 161.28,790.26 164.21,791.01 167.15,791.73 170.08,792.41 173.02,793.05 175.95,793.67 178.89,794.25 181.82,794.81 184.76,795.34 187.69,795.84 190.62,796.31 193.56,796.77 196.49,797.20 199.43,797.60 202.36,797.99 205.30,798.36 208.23,798.71 211.17,799.05 214.10,799.36 217.04,799.66 219.97,799.95 222.91,800.22 225.84,800.48 228.78,800.73 231.71,800.96 234.65,801.18 237.58,801.39 240.52,801.59 243.45,801.78 246.39,801.96 249.32,802.13 252.25,802.30 255.19,802.45 258.12,802.60 261.06,802.74 263.99,802.87 266.93,803.00 269.86,803.12 272.80,803.23 275.73,803.34 278.67,803.45 281.60,803.54 284.54,803.64 287.47,803.73 290.41,803.81 293.34,803.89 296.28,803.97 299.21,804.04 302.15,804.11 305.08,804.17 308.01,804.23 310.95,804.29 313.88,804.35 316.82,804.40 319.75,804.45 322.69,804.50 325.62,804.55" stroke="#00f" stroke-width="1.70" stroke-dasharray="6.400 6.222" stroke-dashoffset="0.550"/>
<polygon points="61.50,672.09 60.25,673.72 58.20,673.99 59.00,675.89 58.20,677.79 60.25,678.05 61.50,679.69 62.75,678.05 64.79,677.79 64.00,675.89 64.79,673.99 62.75,673.72" fill="#000" stroke="#000" stroke-width="0.4"/>
<polygon points="120.19,754.92 118.94,756.55 116.90,756.82 117.69,758.72 116.90,760.62 118.94,760.88 120.19,762.52 121.44,760.88 123.48,760.62 122.69,758.72 123.48,756.82 121.44,756.55" fill="#000" stroke="#000" stroke-width="0.4"/>
<polygon points="178.89,784.78 177.64,786.42 175.59,786.68 176.39,788.58 175.59,790.48 177.64,790.75 178.89,792.38 180.14,790.75 182.18,790.48 181.39,788.58 182.18,786.68 180.14,786.42" fill="#000" stroke="#000" stroke-width="0.4"/>
<polygon points="237.58,795.55 236.33,797.18 234.29,797.45 235.08,799.35 234.29,801.25 236.33,801.51 237.58,803.15 238.83,801.51 240.87,801.25 240.08,799.35 240.87,797.45 238.83,797.18" fill="#000" stroke="#000" stroke-width="0.4"/>
<polygon points="296.28,799.43 295.03,801.06 292.99,801.33 293.78,803.23 292.99,805.13 295.03,805.39 296.28,807.03 297.53,805.39 299.57,805.13 298.78,803.23 299.57,801.33 297.53,801.06" fill="#000" stroke="#000" stroke-width="0.4"/>
<circle cx="61.50" cy="698.22" r="2.55" fill="none" stroke="#f00" stroke-width="1.9"/>
<circle cx="120.19" cy="766.77" r="2.55" fill="none" stroke="#f00" stroke-width="1.9"/>
<circle cx="178.89" cy="791.48" r="2.55" fill="none" stroke="#f00" stroke-width="1.9"/>
<circle cx="237.58" cy="800.39" r="2.55" fill="none" stroke="#f00" stroke-width="1.9"/>
<circle cx="296.28" cy="803.61" r="2.55" fill="none" stroke="#f00" stroke-width="1.9"/>
<polygon points="61.50,715.77 64.20,719.52 61.50,723.27 58.80,719.52" fill="none" stroke="#00f" stroke-width="1.8" stroke-miterlimit="10"/>
<polygon points="120.19,770.70 122.89,774.45 120.19,778.20 117.49,774.45" fill="none" stroke="#00f" stroke-width="1.8" stroke-miterlimit="10"/>
<polygon points="178.89,790.50 181.59,794.25 178.89,798.00 176.19,794.25" fill="none" stroke="#00f" stroke-width="1.8" stroke-miterlimit="10"/>
<polygon points="237.58,797.64 240.28,801.39 237.58,805.14 234.88,801.39" fill="none" stroke="#00f" stroke-width="1.8" stroke-miterlimit="10"/>
<polygon points="296.28,800.22 298.98,803.97 296.28,807.72 293.58,803.97" fill="none" stroke="#00f" stroke-width="1.8" stroke-miterlimit="10"/>
</g></g>
<text transform="translate(35.50,981.75) scale(1.032,1.160)" text-anchor="middle" font-size="8.70" fill="#3a3a3a" stroke="#3a3a3a" stroke-width="0.22">0</text>
<text transform="translate(64.90,981.75) scale(1.032,1.160)" text-anchor="middle" font-size="8.70" fill="#3a3a3a" stroke="#3a3a3a" stroke-width="0.22">0.5</text>
<text transform="translate(94.30,981.75) scale(1.032,1.160)" text-anchor="middle" font-size="8.70" fill="#3a3a3a" stroke="#3a3a3a" stroke-width="0.22">1</text>
<text transform="translate(123.70,981.75) scale(1.032,1.160)" text-anchor="middle" font-size="8.70" fill="#3a3a3a" stroke="#3a3a3a" stroke-width="0.22">1.5</text>
<text transform="translate(153.10,981.75) scale(1.032,1.160)" text-anchor="middle" font-size="8.70" fill="#3a3a3a" stroke="#3a3a3a" stroke-width="0.22">2</text>
<text transform="translate(182.50,981.75) scale(1.032,1.160)" text-anchor="middle" font-size="8.70" fill="#3a3a3a" stroke="#3a3a3a" stroke-width="0.22">2.5</text>
<text transform="translate(211.90,981.75) scale(1.032,1.160)" text-anchor="middle" font-size="8.70" fill="#3a3a3a" stroke="#3a3a3a" stroke-width="0.22">3</text>
<text transform="translate(241.30,981.75) scale(1.032,1.160)" text-anchor="middle" font-size="8.70" fill="#3a3a3a" stroke="#3a3a3a" stroke-width="0.22">3.5</text>
<text transform="translate(270.70,981.75) scale(1.032,1.160)" text-anchor="middle" font-size="8.70" fill="#3a3a3a" stroke="#3a3a3a" stroke-width="0.22">4</text>
<text transform="translate(300.10,981.75) scale(1.032,1.160)" text-anchor="middle" font-size="8.70" fill="#3a3a3a" stroke="#3a3a3a" stroke-width="0.22">4.5</text>
<text transform="translate(329.50,981.75) scale(1.032,1.160)" text-anchor="middle" font-size="8.70" fill="#3a3a3a" stroke="#3a3a3a" stroke-width="0.22">5</text>
<text transform="translate(30.90,971.10) scale(1.032,1.160)" text-anchor="end" font-size="8.70" fill="#3a3a3a" stroke="#3a3a3a" stroke-width="0.22">0</text>
<text transform="translate(30.90,938.48) scale(1.032,1.160)" text-anchor="end" font-size="8.70" fill="#3a3a3a" stroke="#3a3a3a" stroke-width="0.22">0.5</text>
<text transform="translate(30.90,905.85) scale(1.032,1.160)" text-anchor="end" font-size="8.70" fill="#3a3a3a" stroke="#3a3a3a" stroke-width="0.22">1</text>
<text transform="translate(30.90,873.23) scale(1.032,1.160)" text-anchor="end" font-size="8.70" fill="#3a3a3a" stroke="#3a3a3a" stroke-width="0.22">1.5</text>
<text transform="translate(30.90,840.60) scale(1.032,1.160)" text-anchor="end" font-size="8.70" fill="#3a3a3a" stroke="#3a3a3a" stroke-width="0.22">2</text>
<text transform="translate(30.90,807.98) scale(1.032,1.160)" text-anchor="end" font-size="8.70" fill="#3a3a3a" stroke="#3a3a3a" stroke-width="0.22">2.5</text>
<text transform="translate(30.90,775.35) scale(1.032,1.160)" text-anchor="end" font-size="8.70" fill="#3a3a3a" stroke="#3a3a3a" stroke-width="0.22">3</text>
<text transform="translate(30.90,742.73) scale(1.032,1.160)" text-anchor="end" font-size="8.70" fill="#3a3a3a" stroke="#3a3a3a" stroke-width="0.22">3.5</text>
<text transform="translate(30.90,710.10) scale(1.032,1.160)" text-anchor="end" font-size="8.70" fill="#3a3a3a" stroke="#3a3a3a" stroke-width="0.22">4</text>
<text transform="translate(182.50,996.80) scale(1.012,1.160)" text-anchor="middle" font-size="9.30" fill="#3a3a3a" stroke="#3a3a3a" stroke-width="0.22">x</text>
<rect x="237.50" y="714.00" width="85.00" height="58.50" fill="#fff" stroke="#8c8c8c" stroke-width="1"/>
<g transform="translate(237.50,714.00) scale(1.0119,1.2000)">
<line x1="2.9" y1="8.54" x2="29.2" y2="8.54" stroke="#000" stroke-width="1.7"/>
<polygon points="15.80,4.74 14.55,6.38 12.51,6.64 13.30,8.54 12.51,10.44 14.55,10.71 15.80,12.34 17.05,10.71 19.09,10.44 18.30,8.54 19.09,6.64 17.05,6.38" fill="#000" stroke="#000" stroke-width="0.4"/>
<line x1="2.70" y1="24.04" x2="9.20" y2="24.04" stroke="#f00" stroke-width="1.6"/>
<line x1="10.70" y1="24.04" x2="12.50" y2="24.04" stroke="#f00" stroke-width="1.6"/>
<line x1="14.60" y1="24.04" x2="17.00" y2="24.04" stroke="#f00" stroke-width="1.6"/>
<line x1="19.40" y1="24.04" x2="22.10" y2="24.04" stroke="#f00" stroke-width="1.6"/>
<line x1="23.30" y1="24.04" x2="27.00" y2="24.04" stroke="#f00" stroke-width="1.6"/>
<line x1="28.00" y1="24.04" x2="29.50" y2="24.04" stroke="#f00" stroke-width="1.6"/>
<circle cx="15.90" cy="24.04" r="2.55" fill="none" stroke="#f00" stroke-width="1.9"/>
<line x1="2.70" y1="40.29" x2="9.40" y2="40.29" stroke="#00f" stroke-width="1.7"/>
<line x1="14.80" y1="40.29" x2="17.20" y2="40.29" stroke="#00f" stroke-width="1.7"/>
<line x1="19.40" y1="40.29" x2="22.30" y2="40.29" stroke="#00f" stroke-width="1.7"/>
<line x1="27.80" y1="40.29" x2="29.50" y2="40.29" stroke="#00f" stroke-width="1.7"/>
<polygon points="16.00,36.54 18.70,40.29 16.00,44.04 13.30,40.29" fill="none" stroke="#00f" stroke-width="1.8" stroke-miterlimit="10"/>
</g>
<text transform="translate(268.69,727.45) scale(1.012,1.108)" text-anchor="start" font-size="8.30" fill="#3a3a3a" stroke="#3a3a3a" stroke-width="0.22">b</text>
<text transform="translate(274.04,731.45) scale(1.012,1.185)" text-anchor="start" font-size="6.50" fill="#3a3a3a" stroke="#3a3a3a" stroke-width="0.22">1</text>
<text transform="translate(277.48,727.30) scale(1.012,1.150)" text-anchor="start" font-size="8.00" fill="#3a3a3a" stroke="#3a3a3a" stroke-width="0.22">=</text>
<text transform="translate(281.91,727.45) scale(1.012,1.200)" text-anchor="start" font-size="8.00" fill="#3a3a3a" stroke="#3a3a3a" stroke-width="0.22">0.12</text>
<text transform="translate(297.98,728.30) scale(1.012,1.080)" text-anchor="start" font-size="10.60" fill="#888" stroke="#888" stroke-width="0.22">×</text>
<text transform="translate(303.92,727.45) scale(1.012,1.200)" text-anchor="start" font-size="8.00" fill="#3a3a3a" stroke="#3a3a3a" stroke-width="0.22">10</text>
<text transform="translate(313.94,723.05) scale(1.012,1.220)" text-anchor="start" font-size="5.90" fill="#3a3a3a" stroke="#3a3a3a" stroke-width="0.22">-5</text>
<text transform="translate(268.69,746.05) scale(1.012,1.108)" text-anchor="start" font-size="8.30" fill="#3a3a3a" stroke="#3a3a3a" stroke-width="0.22">b</text>
<text transform="translate(274.04,750.05) scale(1.012,1.185)" text-anchor="start" font-size="6.50" fill="#3a3a3a" stroke="#3a3a3a" stroke-width="0.22">1</text>
<text transform="translate(277.48,745.90) scale(1.012,1.150)" text-anchor="start" font-size="8.00" fill="#3a3a3a" stroke="#3a3a3a" stroke-width="0.22">=</text>
<text transform="translate(281.91,746.05) scale(1.012,1.200)" text-anchor="start" font-size="8.00" fill="#3a3a3a" stroke="#3a3a3a" stroke-width="0.22">0.15</text>
<text transform="translate(297.98,746.90) scale(1.012,1.080)" text-anchor="start" font-size="10.60" fill="#888" stroke="#888" stroke-width="0.22">×</text>
<text transform="translate(303.92,746.05) scale(1.012,1.200)" text-anchor="start" font-size="8.00" fill="#3a3a3a" stroke="#3a3a3a" stroke-width="0.22">10</text>
<text transform="translate(313.94,741.65) scale(1.012,1.220)" text-anchor="start" font-size="5.90" fill="#3a3a3a" stroke="#3a3a3a" stroke-width="0.22">-5</text>
<text transform="translate(268.69,765.55) scale(1.012,1.108)" text-anchor="start" font-size="8.30" fill="#3a3a3a" stroke="#3a3a3a" stroke-width="0.22">b</text>
<text transform="translate(274.04,769.55) scale(1.012,1.185)" text-anchor="start" font-size="6.50" fill="#3a3a3a" stroke="#3a3a3a" stroke-width="0.22">1</text>
<text transform="translate(277.48,765.40) scale(1.012,1.150)" text-anchor="start" font-size="8.00" fill="#3a3a3a" stroke="#3a3a3a" stroke-width="0.22">=</text>
<text transform="translate(281.91,765.55) scale(1.012,1.200)" text-anchor="start" font-size="8.00" fill="#3a3a3a" stroke="#3a3a3a" stroke-width="0.22">0.17</text>
<text transform="translate(297.98,766.40) scale(1.012,1.080)" text-anchor="start" font-size="10.60" fill="#888" stroke="#888" stroke-width="0.22">×</text>
<text transform="translate(303.92,765.55) scale(1.012,1.200)" text-anchor="start" font-size="8.00" fill="#3a3a3a" stroke="#3a3a3a" stroke-width="0.22">10</text>
<text transform="translate(313.94,761.15) scale(1.012,1.220)" text-anchor="start" font-size="5.90" fill="#3a3a3a" stroke="#3a3a3a" stroke-width="0.22">-5</text>
<g transform="translate(12.9,839.2) rotate(-90) scale(1.160,1.012)"><text font-size="9.2" fill="#3a3a3a" font-style="italic" stroke="#3a3a3a" stroke-width="0.2">θ</text></g>
<path d="M410.5 965.5V962.5M410.5 705.5V708.5M437.5 965.5V962.5M437.5 705.5V708.5M464.5 965.5V962.5M464.5 705.5V708.5M490.5 965.5V962.5M490.5 705.5V708.5M517.5 965.5V962.5M517.5 705.5V708.5M544.5 965.5V962.5M544.5 705.5V708.5M571.5 965.5V962.5M571.5 705.5V708.5M598.5 965.5V962.5M598.5 705.5V708.5M624.5 965.5V962.5M624.5 705.5V708.5M651.5 965.5V962.5M651.5 705.5V708.5M678.5 965.5V962.5M678.5 705.5V708.5M410.5 965.5H413.5M678.5 965.5H675.5M410.5 933.5H413.5M678.5 933.5H675.5M410.5 900.5H413.5M678.5 900.5H675.5M410.5 868.5H413.5M678.5 868.5H675.5M410.5 835.5H413.5M678.5 835.5H675.5M410.5 803.5H413.5M678.5 803.5H675.5M410.5 770.5H413.5M678.5 770.5H675.5M410.5 738.5H413.5M678.5 738.5H675.5M410.5 705.5H413.5M678.5 705.5H675.5" stroke="#8c8c8c" stroke-width="1" fill="none"/>
<path d="M410.00 705.50H679.00" stroke="#8c8c8c" stroke-width="1" fill="none"/>
<path d="M410.00 965.50H679.00" stroke="#8c8c8c" stroke-width="1" fill="none"/>
<path d="M410.50 705.00V966.00" stroke="#8c8c8c" stroke-width="1" fill="none"/>
<path d="M678.50 705.00V966.00" stroke="#8c8c8c" stroke-width="1" fill="none"/>
<clipPath id="c5"><rect x="410.50" y="702.50" width="268.00" height="266.00"/></clipPath>
<g clip-path="url(#c5)"><g transform="scale(0.9202,1.2000)" fill="none" stroke-linejoin="round">
<polyline points="446.08,696.25 449.02,701.30 451.96,706.32 454.91,711.29 457.85,716.18 460.79,720.97 463.73,725.64 466.67,730.16 469.61,734.50 472.56,738.64 475.50,742.58 478.44,746.27 481.38,749.71 484.32,752.87 487.26,755.75 490.21,758.32 493.15,760.58 496.09,762.51 499.03,764.10 501.97,765.34 504.91,766.23 507.86,766.76 510.80,766.94 513.74,766.75 516.68,766.20 519.62,765.30 522.56,764.04 525.51,762.44 528.45,760.50 531.39,758.23 534.33,755.64 537.27,752.75 540.21,749.58 543.16,746.13 546.10,742.42 549.04,738.48 551.98,734.33 554.92,729.98 557.87,725.46 560.81,720.79 563.75,715.99 566.69,711.09 569.63,706.12 572.57,701.10 575.52,696.05 578.46,691.00 581.40,685.98 584.34,681.01 587.28,676.12 590.22,671.34 593.17,666.68 596.11,662.17 599.05,657.83 601.99,653.69 604.93,649.77 607.87,646.09 610.82,642.66 613.76,639.51 616.70,636.64 619.64,634.08 622.58,631.84 625.52,629.92 628.47,628.35 631.41,627.12 634.35,626.24 637.29,625.72 640.23,625.56 643.17,625.77 646.12,626.33 649.06,627.25 652.00,628.52 654.94,630.13 657.88,632.09 660.82,634.37 663.77,636.97 666.71,639.87 669.65,643.06 672.59,646.52 675.53,650.23 678.48,654.18 681.42,658.34 684.36,662.70 687.30,667.23 690.24,671.90 693.18,676.70 696.13,681.61 699.07,686.58 702.01,691.60 704.95,696.65 707.89,701.70 710.83,706.72 713.78,711.68 716.72,716.57 719.66,721.35 722.60,726.01 725.54,730.51 728.48,734.84 731.43,738.97 734.37,742.88 737.31,746.55" stroke="#000" stroke-width="1.70"/>
<polyline points="446.08,696.25 449.02,702.34 451.96,708.40 454.91,714.40 457.85,720.31 460.79,726.09 463.73,731.72 466.67,737.17 469.61,742.41 472.56,747.42 475.50,752.16 478.44,756.62 481.38,760.77 484.32,764.59 487.26,768.06 490.21,771.17 493.15,773.89 496.09,776.22 499.03,778.13 501.97,779.64 504.91,780.71 507.86,781.35 510.80,781.56 513.74,781.34 516.68,780.68 519.62,779.58 522.56,778.07 525.51,776.13 528.45,773.79 531.39,771.05 534.33,767.93 537.27,764.44 540.21,760.61 543.16,756.45 546.10,751.98 549.04,747.22 551.98,742.21 554.92,736.96 557.87,731.50 560.81,725.86 563.75,720.07 566.69,714.16 569.63,708.16 572.57,702.10 575.52,696.01 578.46,689.92 581.40,683.86 584.34,677.86 587.28,671.96 590.22,666.18 593.17,660.56 596.11,655.12 599.05,649.88 601.99,644.89 604.93,640.16 607.87,635.71 610.82,631.57 613.76,627.77 616.70,624.31 619.64,621.22 622.58,618.51 625.52,616.20 628.47,614.30 631.41,612.81 634.35,611.76 637.29,611.13 640.23,610.94 643.17,611.18 646.12,611.86 649.06,612.97 652.00,614.50 654.94,616.45 657.88,618.81 660.82,621.57 663.77,624.70 666.71,628.20 669.65,632.05 672.59,636.23 675.53,640.71 678.48,645.47 681.42,650.50 684.36,655.76 687.30,661.22 690.24,666.87 693.18,672.66 696.13,678.58 699.07,684.58 702.01,690.64 704.95,696.74 707.89,702.83 710.83,708.88 713.78,714.88 716.72,720.77 719.66,726.54 722.60,732.16 725.54,737.60 728.48,742.82 731.43,747.80 734.37,752.53 737.31,756.96" stroke="#f00" stroke-width="1.65" stroke-dasharray="6.087 1.374 3.534 1.374"/>
<polyline points="446.08,696.25 449.02,703.41 451.96,710.52 454.91,717.57 457.85,724.51 460.79,731.30 463.73,737.91 466.67,744.31 469.61,750.47 472.56,756.35 475.50,761.92 478.44,767.16 481.38,772.03 484.32,776.52 487.26,780.60 490.21,784.25 493.15,787.45 496.09,790.18 499.03,792.43 501.97,794.19 504.91,795.46 507.86,796.21 510.80,796.46 513.74,796.19 516.68,795.42 519.62,794.13 522.56,792.35 525.51,790.08 528.45,787.33 531.39,784.11 534.33,780.45 537.27,776.35 540.21,771.85 543.16,766.96 546.10,761.71 549.04,756.12 551.98,750.23 554.92,744.06 557.87,737.65 560.81,731.03 563.75,724.23 566.69,717.29 569.63,710.24 572.57,703.12 575.52,695.96 578.46,688.81 581.40,681.69 584.34,674.65 587.28,667.72 590.22,660.93 593.17,654.33 596.11,647.93 599.05,641.79 601.99,635.92 604.93,630.36 607.87,625.14 610.82,620.28 613.76,615.81 616.70,611.75 619.64,608.12 622.58,604.94 625.52,602.22 628.47,599.99 631.41,598.25 634.35,597.00 637.29,596.27 640.23,596.04 643.17,596.33 646.12,597.13 649.06,598.43 652.00,600.23 654.94,602.52 657.88,605.29 660.82,608.53 663.77,612.21 666.71,616.32 669.65,620.84 672.59,625.75 675.53,631.01 678.48,636.61 681.42,642.51 684.36,648.69 687.30,655.11 690.24,661.74 693.18,668.54 696.13,675.49 699.07,682.54 702.01,689.66 704.95,696.82 707.89,703.98 710.83,711.09 713.78,718.13 716.72,725.05 719.66,731.83 722.60,738.43 725.54,744.82 728.48,750.95 731.43,756.81 734.37,762.35 737.31,767.56" stroke="#00f" stroke-width="1.70" stroke-dasharray="6.400 5.970" stroke-dashoffset="1.710"/>
<polygon points="472.56,734.84 471.31,736.48 469.26,736.74 470.06,738.64 469.26,740.54 471.31,740.81 472.56,742.44 473.81,740.81 475.85,740.54 475.06,738.64 475.85,736.74 473.81,736.48" fill="#000" stroke="#000" stroke-width="0.4"/>
<polygon points="531.39,754.43 530.14,756.06 528.10,756.33 528.89,758.23 528.10,760.13 530.14,760.39 531.39,762.03 532.64,760.39 534.68,760.13 533.89,758.23 534.68,756.33 532.64,756.06" fill="#000" stroke="#000" stroke-width="0.4"/>
<polygon points="590.22,667.54 588.97,669.17 586.93,669.44 587.72,671.34 586.93,673.24 588.97,673.50 590.22,675.14 591.47,673.50 593.51,673.24 592.72,671.34 593.51,669.44 591.47,669.17" fill="#000" stroke="#000" stroke-width="0.4"/>
<polygon points="649.06,623.45 647.81,625.08 645.77,625.35 646.56,627.25 645.77,629.15 647.81,629.41 649.06,631.05 650.31,629.41 652.35,629.15 651.56,627.25 652.35,625.35 650.31,625.08" fill="#000" stroke="#000" stroke-width="0.4"/>
<polygon points="707.89,697.90 706.64,699.53 704.60,699.80 705.39,701.70 704.60,703.60 706.64,703.86 707.89,705.50 709.14,703.86 711.18,703.60 710.39,701.70 711.18,699.80 709.14,699.53" fill="#000" stroke="#000" stroke-width="0.4"/>
<circle cx="472.56" cy="747.42" r="2.55" fill="none" stroke="#f00" stroke-width="1.9"/>
<circle cx="531.39" cy="771.05" r="2.55" fill="none" stroke="#f00" stroke-width="1.9"/>
<circle cx="590.22" cy="666.18" r="2.55" fill="none" stroke="#f00" stroke-width="1.9"/>
<circle cx="649.06" cy="612.97" r="2.55" fill="none" stroke="#f00" stroke-width="1.9"/>
<circle cx="707.89" cy="702.83" r="2.55" fill="none" stroke="#f00" stroke-width="1.9"/>
<polygon points="472.56,752.60 475.26,756.35 472.56,760.10 469.86,756.35" fill="none" stroke="#00f" stroke-width="1.8" stroke-miterlimit="10"/>
<polygon points="531.39,780.36 534.09,784.11 531.39,787.86 528.69,784.11" fill="none" stroke="#00f" stroke-width="1.8" stroke-miterlimit="10"/>
<polygon points="590.22,657.18 592.92,660.93 590.22,664.68 587.52,660.93" fill="none" stroke="#00f" stroke-width="1.8" stroke-miterlimit="10"/>
<polygon points="649.06,594.68 651.76,598.43 649.06,602.18 646.36,598.43" fill="none" stroke="#00f" stroke-width="1.8" stroke-miterlimit="10"/>
<polygon points="707.89,700.23 710.59,703.98 707.89,707.73 705.19,703.98" fill="none" stroke="#00f" stroke-width="1.8" stroke-miterlimit="10"/>
</g></g>
<text transform="translate(410.50,980.75) scale(0.939,1.160)" text-anchor="middle" font-size="8.70" fill="#3a3a3a" stroke="#3a3a3a" stroke-width="0.22">0</text>
<text transform="translate(437.30,980.75) scale(0.939,1.160)" text-anchor="middle" font-size="8.70" fill="#3a3a3a" stroke="#3a3a3a" stroke-width="0.22">0.5</text>
<text transform="translate(464.10,980.75) scale(0.939,1.160)" text-anchor="middle" font-size="8.70" fill="#3a3a3a" stroke="#3a3a3a" stroke-width="0.22">1</text>
<text transform="translate(490.90,980.75) scale(0.939,1.160)" text-anchor="middle" font-size="8.70" fill="#3a3a3a" stroke="#3a3a3a" stroke-width="0.22">1.5</text>
<text transform="translate(517.70,980.75) scale(0.939,1.160)" text-anchor="middle" font-size="8.70" fill="#3a3a3a" stroke="#3a3a3a" stroke-width="0.22">2</text>
<text transform="translate(544.50,980.75) scale(0.939,1.160)" text-anchor="middle" font-size="8.70" fill="#3a3a3a" stroke="#3a3a3a" stroke-width="0.22">2.5</text>
<text transform="translate(571.30,980.75) scale(0.939,1.160)" text-anchor="middle" font-size="8.70" fill="#3a3a3a" stroke="#3a3a3a" stroke-width="0.22">3</text>
<text transform="translate(598.10,980.75) scale(0.939,1.160)" text-anchor="middle" font-size="8.70" fill="#3a3a3a" stroke="#3a3a3a" stroke-width="0.22">3.5</text>
<text transform="translate(624.90,980.75) scale(0.939,1.160)" text-anchor="middle" font-size="8.70" fill="#3a3a3a" stroke="#3a3a3a" stroke-width="0.22">4</text>
<text transform="translate(651.70,980.75) scale(0.939,1.160)" text-anchor="middle" font-size="8.70" fill="#3a3a3a" stroke="#3a3a3a" stroke-width="0.22">4.5</text>
<text transform="translate(678.50,980.75) scale(0.939,1.160)" text-anchor="middle" font-size="8.70" fill="#3a3a3a" stroke="#3a3a3a" stroke-width="0.22">5</text>
<text transform="translate(405.90,970.10) scale(0.939,1.160)" text-anchor="end" font-size="8.70" fill="#3a3a3a" stroke="#3a3a3a" stroke-width="0.22">-8</text>
<text transform="translate(405.90,937.60) scale(0.939,1.160)" text-anchor="end" font-size="8.70" fill="#3a3a3a" stroke="#3a3a3a" stroke-width="0.22">-6</text>
<text transform="translate(405.90,905.10) scale(0.939,1.160)" text-anchor="end" font-size="8.70" fill="#3a3a3a" stroke="#3a3a3a" stroke-width="0.22">-4</text>
<text transform="translate(405.90,872.60) scale(0.939,1.160)" text-anchor="end" font-size="8.70" fill="#3a3a3a" stroke="#3a3a3a" stroke-width="0.22">-2</text>
<text transform="translate(405.90,840.10) scale(0.939,1.160)" text-anchor="end" font-size="8.70" fill="#3a3a3a" stroke="#3a3a3a" stroke-width="0.22">0</text>
<text transform="translate(405.90,807.60) scale(0.939,1.160)" text-anchor="end" font-size="8.70" fill="#3a3a3a" stroke="#3a3a3a" stroke-width="0.22">2</text>
<text transform="translate(405.90,775.10) scale(0.939,1.160)" text-anchor="end" font-size="8.70" fill="#3a3a3a" stroke="#3a3a3a" stroke-width="0.22">4</text>
<text transform="translate(405.90,742.60) scale(0.939,1.160)" text-anchor="end" font-size="8.70" fill="#3a3a3a" stroke="#3a3a3a" stroke-width="0.22">6</text>
<text transform="translate(405.90,710.10) scale(0.939,1.160)" text-anchor="end" font-size="8.70" fill="#3a3a3a" stroke="#3a3a3a" stroke-width="0.22">8</text>
<text transform="translate(544.50,995.80) scale(0.920,1.160)" text-anchor="middle" font-size="9.30" fill="#3a3a3a" stroke="#3a3a3a" stroke-width="0.22">x</text>
<rect x="589.00" y="901.50" width="77.30" height="57.50" fill="#fff" stroke="#8c8c8c" stroke-width="1"/>
<g transform="translate(589.00,901.50) scale(0.9202,1.2000)">
<line x1="2.9" y1="9.04" x2="29.2" y2="9.04" stroke="#000" stroke-width="1.7"/>
<polygon points="15.80,5.24 14.55,6.88 12.51,7.14 13.30,9.04 12.51,10.94 14.55,11.21 15.80,12.84 17.05,11.21 19.09,10.94 18.30,9.04 19.09,7.14 17.05,6.88" fill="#000" stroke="#000" stroke-width="0.4"/>
<line x1="2.70" y1="24.96" x2="9.20" y2="24.96" stroke="#f00" stroke-width="1.6"/>
<line x1="10.70" y1="24.96" x2="12.50" y2="24.96" stroke="#f00" stroke-width="1.6"/>
<line x1="14.60" y1="24.96" x2="17.00" y2="24.96" stroke="#f00" stroke-width="1.6"/>
<line x1="19.40" y1="24.96" x2="22.10" y2="24.96" stroke="#f00" stroke-width="1.6"/>
<line x1="23.30" y1="24.96" x2="27.00" y2="24.96" stroke="#f00" stroke-width="1.6"/>
<line x1="28.00" y1="24.96" x2="29.50" y2="24.96" stroke="#f00" stroke-width="1.6"/>
<circle cx="15.90" cy="24.96" r="2.55" fill="none" stroke="#f00" stroke-width="1.9"/>
<line x1="2.70" y1="40.54" x2="9.40" y2="40.54" stroke="#00f" stroke-width="1.7"/>
<line x1="14.80" y1="40.54" x2="17.20" y2="40.54" stroke="#00f" stroke-width="1.7"/>
<line x1="19.40" y1="40.54" x2="22.30" y2="40.54" stroke="#00f" stroke-width="1.7"/>
<line x1="27.80" y1="40.54" x2="29.50" y2="40.54" stroke="#00f" stroke-width="1.7"/>
<polygon points="16.00,36.79 18.70,40.54 16.00,44.29 13.30,40.54" fill="none" stroke="#00f" stroke-width="1.8" stroke-miterlimit="10"/>
</g>
<text transform="translate(617.36,915.55) scale(0.920,1.108)" text-anchor="start" font-size="8.30" fill="#3a3a3a" stroke="#3a3a3a" stroke-width="0.22">b</text>
<text transform="translate(622.23,919.55) scale(0.920,1.185)" text-anchor="start" font-size="6.50" fill="#3a3a3a" stroke="#3a3a3a" stroke-width="0.22">1</text>
<text transform="translate(625.36,915.40) scale(0.920,1.150)" text-anchor="start" font-size="8.00" fill="#3a3a3a" stroke="#3a3a3a" stroke-width="0.22">=</text>
<text transform="translate(629.39,915.55) scale(0.920,1.200)" text-anchor="start" font-size="8.00" fill="#3a3a3a" stroke="#3a3a3a" stroke-width="0.22">0.12</text>
<text transform="translate(644.00,916.40) scale(0.920,1.080)" text-anchor="start" font-size="10.60" fill="#888" stroke="#888" stroke-width="0.22">×</text>
<text transform="translate(649.40,915.55) scale(0.920,1.200)" text-anchor="start" font-size="8.00" fill="#3a3a3a" stroke="#3a3a3a" stroke-width="0.22">10</text>
<text transform="translate(658.52,911.15) scale(0.920,1.220)" text-anchor="start" font-size="5.90" fill="#3a3a3a" stroke="#3a3a3a" stroke-width="0.22">-5</text>
<text transform="translate(617.36,934.65) scale(0.920,1.108)" text-anchor="start" font-size="8.30" fill="#3a3a3a" stroke="#3a3a3a" stroke-width="0.22">b</text>
<text transform="translate(622.23,938.65) scale(0.920,1.185)" text-anchor="start" font-size="6.50" fill="#3a3a3a" stroke="#3a3a3a" stroke-width="0.22">1</text>
<text transform="translate(625.36,934.50) scale(0.920,1.150)" text-anchor="start" font-size="8.00" fill="#3a3a3a" stroke="#3a3a3a" stroke-width="0.22">=</text>
<text transform="translate(629.39,934.65) scale(0.920,1.200)" text-anchor="start" font-size="8.00" fill="#3a3a3a" stroke="#3a3a3a" stroke-width="0.22">0.15</text>
<text transform="translate(644.00,935.50) scale(0.920,1.080)" text-anchor="start" font-size="10.60" fill="#888" stroke="#888" stroke-width="0.22">×</text>
<text transform="translate(649.40,934.65) scale(0.920,1.200)" text-anchor="start" font-size="8.00" fill="#3a3a3a" stroke="#3a3a3a" stroke-width="0.22">10</text>
<text transform="translate(658.52,930.25) scale(0.920,1.220)" text-anchor="start" font-size="5.90" fill="#3a3a3a" stroke="#3a3a3a" stroke-width="0.22">-5</text>
<text transform="translate(617.36,953.35) scale(0.920,1.108)" text-anchor="start" font-size="8.30" fill="#3a3a3a" stroke="#3a3a3a" stroke-width="0.22">b</text>
<text transform="translate(622.23,957.35) scale(0.920,1.185)" text-anchor="start" font-size="6.50" fill="#3a3a3a" stroke="#3a3a3a" stroke-width="0.22">1</text>
<text transform="translate(625.36,953.20) scale(0.920,1.150)" text-anchor="start" font-size="8.00" fill="#3a3a3a" stroke="#3a3a3a" stroke-width="0.22">=</text>
<text transform="translate(629.39,953.35) scale(0.920,1.200)" text-anchor="start" font-size="8.00" fill="#3a3a3a" stroke="#3a3a3a" stroke-width="0.22">0.17</text>
<text transform="translate(644.00,954.20) scale(0.920,1.080)" text-anchor="start" font-size="10.60" fill="#888" stroke="#888" stroke-width="0.22">×</text>
<text transform="translate(649.40,953.35) scale(0.920,1.200)" text-anchor="start" font-size="8.00" fill="#3a3a3a" stroke="#3a3a3a" stroke-width="0.22">10</text>
<text transform="translate(658.52,948.95) scale(0.920,1.220)" text-anchor="start" font-size="5.90" fill="#3a3a3a" stroke="#3a3a3a" stroke-width="0.22">-5</text>
<g transform="translate(394.3,839.2) rotate(-90) scale(1.160,0.920)"><text font-size="9.0" fill="#3a3a3a" stroke="#3a3a3a" stroke-width="0.2">C</text></g>
</svg></body></html>
